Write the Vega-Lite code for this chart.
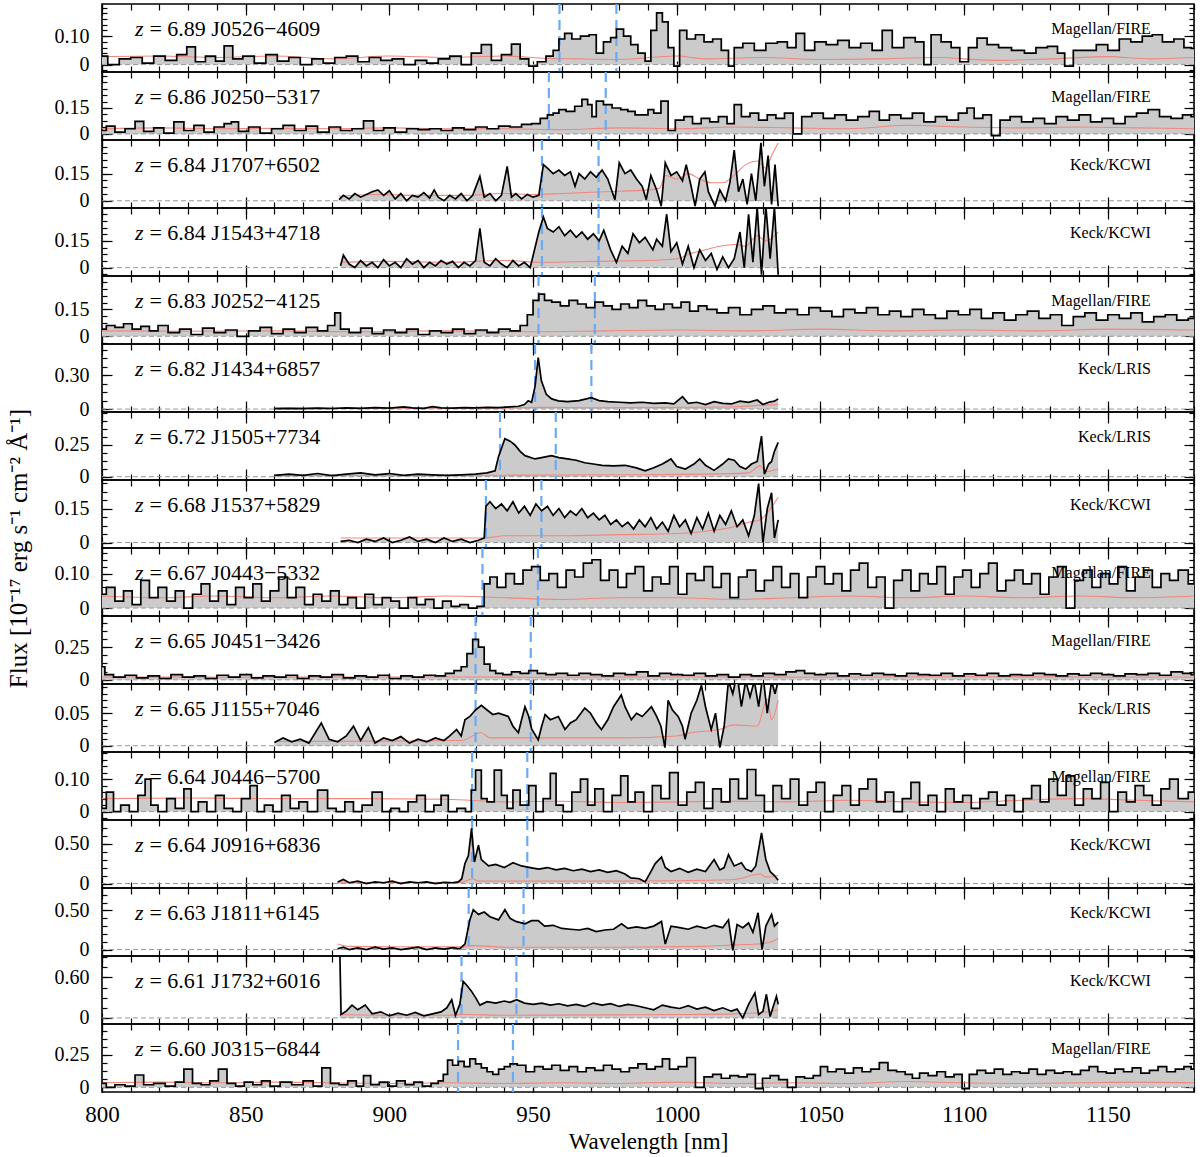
{
"padding":{"left":5,"top":2,"right":2,"bottom":2},
"config":{
 "view":{"continuousWidth":1092,"continuousHeight":68,"stroke":"black","strokeWidth":1.6},
 "concat":{"spacing":0},
 "mark":{"invalid":"filter"},
 "axis":{"domain":false,"grid":false,"tickColor":"black","tickWidth":1.2,"labelFont":"Liberation Serif","labelFontSize":20,"labelColor":"black","labelFlush":false,"titleFont":"Liberation Serif","titleFontWeight":"normal","titleColor":"black","zindex":1},
 "text":{"font":"Liberation Serif","fontSize":22,"baseline":"middle","color":"black"}
},
"datasets":{"d":[
{"p":1,"t":"= 6.89 J0526−4609","i":"Magellan/FIRE"},{"p":2,"t":"= 6.86 J0250−5317","i":"Magellan/FIRE"},{"p":3,"t":"= 6.84 J1707+6502","i":"Keck/KCWI"},{"p":4,"t":"= 6.84 J1543+4718","i":"Keck/KCWI"},{"p":5,"t":"= 6.83 J0252−4125","i":"Magellan/FIRE"},{"p":6,"t":"= 6.82 J1434+6857","i":"Keck/LRIS"},{"p":7,"t":"= 6.72 J1505+7734","i":"Keck/LRIS"},{"p":8,"t":"= 6.68 J1537+5829","i":"Keck/KCWI"},{"p":9,"t":"= 6.67 J0443−5332","i":"Magellan/FIRE"},{"p":10,"t":"= 6.65 J0451−3426","i":"Magellan/FIRE"},{"p":11,"t":"= 6.65 J1155+7046","i":"Keck/LRIS"},{"p":12,"t":"= 6.64 J0446−5700","i":"Magellan/FIRE"},{"p":13,"t":"= 6.64 J0916+6836","i":"Keck/KCWI"},{"p":14,"t":"= 6.63 J1811+6145","i":"Keck/KCWI"},{"p":15,"t":"= 6.61 J1732+6016","i":"Keck/KCWI"},{"p":16,"t":"= 6.60 J0315−6844","i":"Magellan/FIRE"},
{"p":1,"l":959.2},{"p":1,"l":979.0},{"p":2,"l":955.5},{"p":2,"l":975.3},{"p":3,"l":953.1},{"p":3,"l":972.8},{"p":4,"l":953.1},{"p":4,"l":972.8},{"p":5,"l":951.9},{"p":5,"l":971.5},{"p":6,"l":950.7},{"p":6,"l":970.3},{"p":7,"l":938.5},{"p":7,"l":957.9},{"p":8,"l":933.6},{"p":8,"l":952.9},{"p":9,"l":932.4},{"p":9,"l":951.7},{"p":10,"l":930.0},{"p":10,"l":949.2},{"p":11,"l":930.0},{"p":11,"l":949.2},{"p":12,"l":928.8},{"p":12,"l":948.0},{"p":13,"l":928.8},{"p":13,"l":948.0},{"p":14,"l":927.6},{"p":14,"l":946.7},{"p":15,"l":925.1},{"p":15,"l":944.2},{"p":16,"l":923.9},{"p":16,"l":943.0},
{"p":1,"w":800,"f":0.03},{"p":1,"w":804,"f":0.0},{"p":1,"w":808,"f":0.02},{"p":1,"w":812,"f":0.025},{"p":1,"w":816,"f":0.005},{"p":1,"w":820,"f":0.03},{"p":1,"w":824,"f":0.015},{"p":1,"w":828,"f":0.035},{"p":1,"w":831,"f":0.062},{"p":1,"w":834,"f":0.01},{"p":1,"w":838,"f":0.03},{"p":1,"w":841,"f":0.012},{"p":1,"w":844,"f":0.066},{"p":1,"w":847,"f":0.02},{"p":1,"w":851,"f":0.03},{"p":1,"w":855,"f":0.005},{"p":1,"w":859,"f":0.035},{"p":1,"w":863,"f":0.012},{"p":1,"w":867,"f":0.025},{"p":1,"w":871,"f":0.0},{"p":1,"w":875,"f":0.02},{"p":1,"w":879,"f":0.005},{"p":1,"w":883,"f":0.025},{"p":1,"w":887,"f":0.03},{"p":1,"w":891,"f":0.01},{"p":1,"w":895,"f":0.025},{"p":1,"w":899,"f":0.015},{"p":1,"w":903,"f":0.02},{"p":1,"w":907,"f":0.0},{"p":1,"w":911,"f":0.015},{"p":1,"w":915,"f":0.005},{"p":1,"w":919,"f":0.02},{"p":1,"w":923,"f":0.03},{"p":1,"w":927,"f":0.0},{"p":1,"w":930,"f":0.04},{"p":1,"w":934,"f":0.07},{"p":1,"w":937,"f":0.015},{"p":1,"w":941,"f":0.035},{"p":1,"w":944,"f":0.072},{"p":1,"w":947,"f":0.02},{"p":1,"w":950,"f":-0.005},{"p":1,"w":953,"f":0.01},{"p":1,"w":956,"f":0.03},{"p":1,"w":958,"f":0.05},{"p":1,"w":960,"f":0.09},{"p":1,"w":962,"f":0.11},{"p":1,"w":965,"f":0.09},{"p":1,"w":968,"f":0.1},{"p":1,"w":971,"f":0.105},{"p":1,"w":973,"f":0.04},{"p":1,"w":976,"f":0.08},{"p":1,"w":978,"f":0.095},{"p":1,"w":980,"f":0.125},{"p":1,"w":983,"f":0.1},{"p":1,"w":985,"f":0.07},{"p":1,"w":988,"f":0.04},{"p":1,"w":990,"f":0.012},{"p":1,"w":992,"f":0.12},{"p":1,"w":994,"f":0.182},{"p":1,"w":996,"f":0.15},{"p":1,"w":998,"f":0.06},{"p":1,"w":1000,"f":-0.005},{"p":1,"w":1002,"f":0.12},{"p":1,"w":1005,"f":0.09},{"p":1,"w":1008,"f":0.105},{"p":1,"w":1011,"f":0.08},{"p":1,"w":1014,"f":0.09},{"p":1,"w":1017,"f":0.05},{"p":1,"w":1019,"f":-0.005},{"p":1,"w":1021,"f":0.06},{"p":1,"w":1025,"f":0.075},{"p":1,"w":1029,"f":0.05},{"p":1,"w":1033,"f":0.075},{"p":1,"w":1037,"f":0.08},{"p":1,"w":1040,"f":0.06},{"p":1,"w":1043,"f":0.11},{"p":1,"w":1046,"f":0.05},{"p":1,"w":1050,"f":0.08},{"p":1,"w":1054,"f":0.07},{"p":1,"w":1058,"f":0.085},{"p":1,"w":1062,"f":0.06},{"p":1,"w":1066,"f":0.075},{"p":1,"w":1070,"f":0.05},{"p":1,"w":1073,"f":0.12},{"p":1,"w":1077,"f":0.06},{"p":1,"w":1081,"f":0.095},{"p":1,"w":1085,"f":0.08},{"p":1,"w":1087,"f":0.0},{"p":1,"w":1090,"f":0.105},{"p":1,"w":1094,"f":0.08},{"p":1,"w":1097,"f":0.06},{"p":1,"w":1100,"f":0.01},{"p":1,"w":1103,"f":0.06},{"p":1,"w":1106,"f":0.093},{"p":1,"w":1110,"f":0.07},{"p":1,"w":1114,"f":0.06},{"p":1,"w":1119,"f":0.05},{"p":1,"w":1123,"f":0.04},{"p":1,"w":1127,"f":0.06},{"p":1,"w":1131,"f":0.064},{"p":1,"w":1134,"f":0.04},{"p":1,"w":1136,"f":-0.005},{"p":1,"w":1140,"f":0.05},{"p":1,"w":1144,"f":0.05},{"p":1,"w":1148,"f":0.07},{"p":1,"w":1152,"f":0.05},{"p":1,"w":1156,"f":0.09},{"p":1,"w":1160,"f":0.08},{"p":1,"w":1164,"f":0.1},{"p":1,"w":1167,"f":0.105},{"p":1,"w":1171,"f":0.08},{"p":1,"w":1175,"f":0.09},{"p":1,"w":1178,"f":0.06},{"p":1,"w":1180,"f":0.057},
{"p":1,"w":800,"e":0.028},{"p":1,"w":820,"e":0.03},{"p":1,"w":840,"e":0.025},{"p":1,"w":860,"e":0.03},{"p":1,"w":880,"e":0.02},{"p":1,"w":900,"e":0.03},{"p":1,"w":920,"e":0.025},{"p":1,"w":940,"e":0.03},{"p":1,"w":955,"e":0.022},{"p":1,"w":965,"e":0.02},{"p":1,"w":980,"e":0.018},{"p":1,"w":1000,"e":0.03},{"p":1,"w":1010,"e":0.02},{"p":1,"w":1030,"e":0.025},{"p":1,"w":1050,"e":0.018},{"p":1,"w":1070,"e":0.02},{"p":1,"w":1090,"e":0.025},{"p":1,"w":1110,"e":0.015},{"p":1,"w":1130,"e":0.02},{"p":1,"w":1150,"e":0.028},{"p":1,"w":1165,"e":0.02},{"p":1,"w":1180,"e":0.025},
{"p":2,"w":800,"f":0.02},{"p":2,"w":803,"f":0.045},{"p":2,"w":806,"f":0.01},{"p":2,"w":810,"f":0.03},{"p":2,"w":813,"f":0.073},{"p":2,"w":816,"f":0.015},{"p":2,"w":820,"f":0.035},{"p":2,"w":823,"f":0.005},{"p":2,"w":827,"f":0.07},{"p":2,"w":830,"f":0.02},{"p":2,"w":834,"f":0.05},{"p":2,"w":837,"f":0.01},{"p":2,"w":841,"f":0.04},{"p":2,"w":844,"f":0.06},{"p":2,"w":846,"f":0.07},{"p":2,"w":849,"f":0.015},{"p":2,"w":853,"f":0.04},{"p":2,"w":857,"f":0.005},{"p":2,"w":861,"f":0.03},{"p":2,"w":865,"f":0.05},{"p":2,"w":869,"f":0.02},{"p":2,"w":873,"f":0.045},{"p":2,"w":877,"f":0.01},{"p":2,"w":881,"f":0.04},{"p":2,"w":885,"f":0.02},{"p":2,"w":889,"f":0.03},{"p":2,"w":893,"f":0.075},{"p":2,"w":896,"f":0.02},{"p":2,"w":900,"f":0.035},{"p":2,"w":904,"f":0.01},{"p":2,"w":908,"f":0.03},{"p":2,"w":912,"f":0.025},{"p":2,"w":916,"f":0.03},{"p":2,"w":920,"f":0.02},{"p":2,"w":924,"f":0.035},{"p":2,"w":928,"f":0.025},{"p":2,"w":932,"f":0.04},{"p":2,"w":936,"f":0.03},{"p":2,"w":940,"f":0.045},{"p":2,"w":944,"f":0.04},{"p":2,"w":948,"f":0.055},{"p":2,"w":951,"f":0.06},{"p":2,"w":954,"f":0.09},{"p":2,"w":956,"f":0.11},{"p":2,"w":958,"f":0.12},{"p":2,"w":960,"f":0.14},{"p":2,"w":963,"f":0.13},{"p":2,"w":966,"f":0.16},{"p":2,"w":968,"f":0.2},{"p":2,"w":970,"f":0.17},{"p":2,"w":971,"f":0.1},{"p":2,"w":973,"f":0.19},{"p":2,"w":976,"f":0.17},{"p":2,"w":979,"f":0.15},{"p":2,"w":982,"f":0.14},{"p":2,"w":984,"f":0.13},{"p":2,"w":987,"f":0.11},{"p":2,"w":989,"f":0.11},{"p":2,"w":991,"f":0.14},{"p":2,"w":993,"f":0.12},{"p":2,"w":996,"f":0.19},{"p":2,"w":998,"f":0.02},{"p":2,"w":1001,"f":0.08},{"p":2,"w":1004,"f":0.1},{"p":2,"w":1007,"f":0.06},{"p":2,"w":1010,"f":0.09},{"p":2,"w":1013,"f":0.07},{"p":2,"w":1016,"f":0.1},{"p":2,"w":1019,"f":0.06},{"p":2,"w":1021,"f":0.17},{"p":2,"w":1024,"f":0.1},{"p":2,"w":1027,"f":0.12},{"p":2,"w":1030,"f":0.08},{"p":2,"w":1033,"f":0.11},{"p":2,"w":1036,"f":0.09},{"p":2,"w":1039,"f":0.12},{"p":2,"w":1042,"f":0.0},{"p":2,"w":1045,"f":0.1},{"p":2,"w":1049,"f":0.12},{"p":2,"w":1053,"f":0.09},{"p":2,"w":1057,"f":0.11},{"p":2,"w":1061,"f":0.08},{"p":2,"w":1065,"f":0.1},{"p":2,"w":1069,"f":0.13},{"p":2,"w":1072,"f":0.08},{"p":2,"w":1076,"f":0.11},{"p":2,"w":1080,"f":0.09},{"p":2,"w":1084,"f":0.12},{"p":2,"w":1088,"f":0.07},{"p":2,"w":1092,"f":0.1},{"p":2,"w":1096,"f":0.08},{"p":2,"w":1100,"f":0.12},{"p":2,"w":1102,"f":0.15},{"p":2,"w":1105,"f":0.09},{"p":2,"w":1108,"f":0.11},{"p":2,"w":1111,"f":-0.01},{"p":2,"w":1114,"f":0.08},{"p":2,"w":1118,"f":0.1},{"p":2,"w":1122,"f":0.07},{"p":2,"w":1126,"f":0.09},{"p":2,"w":1130,"f":0.06},{"p":2,"w":1134,"f":0.1},{"p":2,"w":1138,"f":0.08},{"p":2,"w":1142,"f":0.11},{"p":2,"w":1146,"f":0.07},{"p":2,"w":1150,"f":0.09},{"p":2,"w":1154,"f":0.06},{"p":2,"w":1158,"f":0.1},{"p":2,"w":1162,"f":0.12},{"p":2,"w":1166,"f":0.14},{"p":2,"w":1170,"f":0.1},{"p":2,"w":1174,"f":0.09},{"p":2,"w":1178,"f":0.11},{"p":2,"w":1180,"f":0.1},
{"p":2,"w":800,"e":0.03},{"p":2,"w":820,"e":0.035},{"p":2,"w":840,"e":0.03},{"p":2,"w":860,"e":0.032},{"p":2,"w":880,"e":0.03},{"p":2,"w":900,"e":0.035},{"p":2,"w":920,"e":0.03},{"p":2,"w":940,"e":0.03},{"p":2,"w":960,"e":0.025},{"p":2,"w":980,"e":0.035},{"p":2,"w":1000,"e":0.03},{"p":2,"w":1020,"e":0.04},{"p":2,"w":1040,"e":0.035},{"p":2,"w":1060,"e":0.03},{"p":2,"w":1080,"e":0.05},{"p":2,"w":1100,"e":0.04},{"p":2,"w":1120,"e":0.035},{"p":2,"w":1140,"e":0.04},{"p":2,"w":1160,"e":0.035},{"p":2,"w":1180,"e":0.03},
{"p":3,"w":882.5,"f":0.006},{"p":3,"w":884,"f":0.03},{"p":3,"w":886,"f":0.01},{"p":3,"w":888,"f":0.04},{"p":3,"w":890,"f":0.02},{"p":3,"w":892,"f":0.035},{"p":3,"w":894,"f":0.05},{"p":3,"w":896,"f":0.06},{"p":3,"w":898,"f":0.03},{"p":3,"w":900,"f":0.055},{"p":3,"w":902,"f":0.01},{"p":3,"w":904,"f":0.04},{"p":3,"w":906,"f":0.0},{"p":3,"w":908,"f":0.03},{"p":3,"w":910,"f":0.02},{"p":3,"w":912,"f":0.045},{"p":3,"w":914,"f":0.015},{"p":3,"w":915.6,"f":0.06},{"p":3,"w":917,"f":0.02},{"p":3,"w":919,"f":0.0},{"p":3,"w":921,"f":0.03},{"p":3,"w":923,"f":0.01},{"p":3,"w":925,"f":0.04},{"p":3,"w":927,"f":0.0},{"p":3,"w":929,"f":0.03},{"p":3,"w":931.5,"f":0.135},{"p":3,"w":933,"f":0.02},{"p":3,"w":935,"f":0.04},{"p":3,"w":937,"f":0.0},{"p":3,"w":939,"f":0.03},{"p":3,"w":941,"f":0.19},{"p":3,"w":942.5,"f":0.02},{"p":3,"w":944,"f":0.04},{"p":3,"w":946,"f":0.01},{"p":3,"w":948,"f":0.035},{"p":3,"w":950,"f":0.02},{"p":3,"w":952,"f":0.03},{"p":3,"w":953.6,"f":0.2},{"p":3,"w":955,"f":0.18},{"p":3,"w":957,"f":0.15},{"p":3,"w":959,"f":0.17},{"p":3,"w":961,"f":0.14},{"p":3,"w":963,"f":0.16},{"p":3,"w":964.6,"f":0.08},{"p":3,"w":966,"f":0.15},{"p":3,"w":968,"f":0.12},{"p":3,"w":970,"f":0.16},{"p":3,"w":972,"f":0.13},{"p":3,"w":974,"f":0.17},{"p":3,"w":976,"f":0.12},{"p":3,"w":978.5,"f":0.006},{"p":3,"w":980,"f":0.21},{"p":3,"w":982,"f":0.15},{"p":3,"w":984,"f":0.17},{"p":3,"w":986,"f":0.12},{"p":3,"w":988,"f":0.08},{"p":3,"w":989.4,"f":0.006},{"p":3,"w":991,"f":0.14},{"p":3,"w":993,"f":0.06},{"p":3,"w":994.6,"f":-0.03},{"p":3,"w":996,"f":0.21},{"p":3,"w":998,"f":0.14},{"p":3,"w":1000,"f":0.16},{"p":3,"w":1002,"f":0.11},{"p":3,"w":1003.3,"f":0.2},{"p":3,"w":1005,"f":0.08},{"p":3,"w":1006.4,"f":-0.03},{"p":3,"w":1008,"f":0.12},{"p":3,"w":1009.8,"f":0.16},{"p":3,"w":1011,"f":0.05},{"p":3,"w":1013.3,"f":-0.03},{"p":3,"w":1015,"f":0.06},{"p":3,"w":1017,"f":0.0},{"p":3,"w":1018.5,"f":0.1},{"p":3,"w":1020,"f":0.28},{"p":3,"w":1021.5,"f":0.05},{"p":3,"w":1023,"f":0.12},{"p":3,"w":1024.5,"f":-0.02},{"p":3,"w":1026,"f":0.15},{"p":3,"w":1027.5,"f":0.0},{"p":3,"w":1029.3,"f":0.32},{"p":3,"w":1030.5,"f":0.08},{"p":3,"w":1031.8,"f":0.25},{"p":3,"w":1033,"f":-0.02},{"p":3,"w":1034.2,"f":0.2},{"p":3,"w":1035.3,"f":-0.03},
{"p":3,"w":882.5,"e":0.025},{"p":3,"w":895,"e":0.035},{"p":3,"w":910,"e":0.03},{"p":3,"w":925,"e":0.03},{"p":3,"w":940,"e":0.04},{"p":3,"w":950,"e":0.035},{"p":3,"w":960,"e":0.04},{"p":3,"w":975,"e":0.05},{"p":3,"w":990,"e":0.06},{"p":3,"w":994,"e":0.07},{"p":3,"w":996,"e":0.14},{"p":3,"w":1000,"e":0.12},{"p":3,"w":1004,"e":0.15},{"p":3,"w":1008,"e":0.12},{"p":3,"w":1012,"e":0.1},{"p":3,"w":1016,"e":0.1},{"p":3,"w":1020,"e":0.14},{"p":3,"w":1024,"e":0.2},{"p":3,"w":1028,"e":0.22},{"p":3,"w":1031,"e":0.18},{"p":3,"w":1033,"e":0.25},{"p":3,"w":1035.3,"e":0.32},
{"p":4,"w":883,"f":0.01},{"p":4,"w":884,"f":0.07},{"p":4,"w":886,"f":0.02},{"p":4,"w":888,"f":0.0},{"p":4,"w":890,"f":0.04},{"p":4,"w":892,"f":0.01},{"p":4,"w":894,"f":0.03},{"p":4,"w":896,"f":0.0},{"p":4,"w":898,"f":0.045},{"p":4,"w":900,"f":0.01},{"p":4,"w":902,"f":0.03},{"p":4,"w":904,"f":0.0},{"p":4,"w":906,"f":0.05},{"p":4,"w":908,"f":0.02},{"p":4,"w":910,"f":0.04},{"p":4,"w":912,"f":0.0},{"p":4,"w":914,"f":0.03},{"p":4,"w":916,"f":0.01},{"p":4,"w":918,"f":0.04},{"p":4,"w":920,"f":0.02},{"p":4,"w":922,"f":0.035},{"p":4,"w":924,"f":0.0},{"p":4,"w":926,"f":0.03},{"p":4,"w":928,"f":0.01},{"p":4,"w":930,"f":0.04},{"p":4,"w":931.5,"f":0.22},{"p":4,"w":933,"f":0.03},{"p":4,"w":935,"f":0.01},{"p":4,"w":937,"f":0.05},{"p":4,"w":939,"f":0.02},{"p":4,"w":941,"f":0.0},{"p":4,"w":943,"f":0.04},{"p":4,"w":945,"f":0.01},{"p":4,"w":947,"f":0.03},{"p":4,"w":949,"f":0.0},{"p":4,"w":950.5,"f":0.1},{"p":4,"w":952,"f":0.2},{"p":4,"w":953.6,"f":0.285},{"p":4,"w":955,"f":0.22},{"p":4,"w":957,"f":0.2},{"p":4,"w":959,"f":0.23},{"p":4,"w":961,"f":0.18},{"p":4,"w":963,"f":0.21},{"p":4,"w":965,"f":0.17},{"p":4,"w":967,"f":0.2},{"p":4,"w":969,"f":0.16},{"p":4,"w":971,"f":0.19},{"p":4,"w":973,"f":0.15},{"p":4,"w":974.6,"f":0.21},{"p":4,"w":977,"f":0.1},{"p":4,"w":979,"f":0.03},{"p":4,"w":981,"f":0.12},{"p":4,"w":983,"f":0.08},{"p":4,"w":984.8,"f":0.19},{"p":4,"w":987,"f":0.14},{"p":4,"w":989,"f":0.17},{"p":4,"w":991.7,"f":0.1},{"p":4,"w":993,"f":0.16},{"p":4,"w":995,"f":0.12},{"p":4,"w":996.5,"f":0.3},{"p":4,"w":998,"f":0.09},{"p":4,"w":1000,"f":0.14},{"p":4,"w":1002,"f":0.02},{"p":4,"w":1004,"f":0.12},{"p":4,"w":1006,"f":0.0},{"p":4,"w":1008,"f":0.1},{"p":4,"w":1010,"f":0.04},{"p":4,"w":1012,"f":0.08},{"p":4,"w":1014,"f":-0.01},{"p":4,"w":1016,"f":0.06},{"p":4,"w":1018,"f":0.0},{"p":4,"w":1020,"f":0.05},{"p":4,"w":1022,"f":0.2},{"p":4,"w":1023.5,"f":0.0},{"p":4,"w":1025,"f":0.3},{"p":4,"w":1026.5,"f":0.03},{"p":4,"w":1028,"f":0.34},{"p":4,"w":1029.5,"f":-0.04},{"p":4,"w":1031,"f":0.35},{"p":4,"w":1032.5,"f":0.05},{"p":4,"w":1034,"f":0.34},{"p":4,"w":1035.3,"f":-0.04},
{"p":4,"w":883,"e":0.03},{"p":4,"w":900,"e":0.035},{"p":4,"w":920,"e":0.03},{"p":4,"w":940,"e":0.04},{"p":4,"w":953,"e":0.03},{"p":4,"w":970,"e":0.035},{"p":4,"w":990,"e":0.04},{"p":4,"w":1000,"e":0.05},{"p":4,"w":1005,"e":0.08},{"p":4,"w":1010,"e":0.1},{"p":4,"w":1015,"e":0.12},{"p":4,"w":1020,"e":0.13},{"p":4,"w":1024,"e":0.12},{"p":4,"w":1028,"e":0.18},{"p":4,"w":1031,"e":0.15},{"p":4,"w":1035.3,"e":0.2},
{"p":5,"w":800,"f":0.04},{"p":5,"w":803,"f":0.06},{"p":5,"w":806,"f":0.05},{"p":5,"w":809,"f":0.07},{"p":5,"w":812,"f":0.04},{"p":5,"w":815,"f":0.055},{"p":5,"w":818,"f":0.03},{"p":5,"w":821,"f":0.06},{"p":5,"w":825,"f":0.02},{"p":5,"w":829,"f":0.04},{"p":5,"w":833,"f":0.01},{"p":5,"w":837,"f":0.045},{"p":5,"w":841,"f":0.02},{"p":5,"w":845,"f":0.035},{"p":5,"w":849,"f":0.0},{"p":5,"w":853,"f":0.03},{"p":5,"w":857,"f":0.05},{"p":5,"w":861,"f":0.015},{"p":5,"w":865,"f":0.04},{"p":5,"w":869,"f":0.02},{"p":5,"w":873,"f":0.05},{"p":5,"w":877,"f":0.03},{"p":5,"w":880,"f":0.06},{"p":5,"w":882,"f":0.13},{"p":5,"w":884,"f":0.04},{"p":5,"w":888,"f":0.02},{"p":5,"w":892,"f":0.045},{"p":5,"w":896,"f":0.015},{"p":5,"w":900,"f":0.035},{"p":5,"w":904,"f":0.02},{"p":5,"w":908,"f":0.04},{"p":5,"w":912,"f":0.01},{"p":5,"w":916,"f":0.03},{"p":5,"w":920,"f":0.02},{"p":5,"w":924,"f":0.04},{"p":5,"w":928,"f":0.015},{"p":5,"w":932,"f":0.035},{"p":5,"w":936,"f":0.02},{"p":5,"w":940,"f":0.04},{"p":5,"w":944,"f":0.03},{"p":5,"w":947,"f":0.06},{"p":5,"w":949,"f":0.12},{"p":5,"w":951,"f":0.2},{"p":5,"w":953,"f":0.235},{"p":5,"w":955,"f":0.2},{"p":5,"w":958,"f":0.19},{"p":5,"w":961,"f":0.17},{"p":5,"w":964,"f":0.2},{"p":5,"w":967,"f":0.18},{"p":5,"w":970,"f":0.16},{"p":5,"w":973,"f":0.19},{"p":5,"w":976,"f":0.17},{"p":5,"w":979,"f":0.15},{"p":5,"w":982,"f":0.18},{"p":5,"w":985,"f":0.16},{"p":5,"w":988,"f":0.2},{"p":5,"w":991,"f":0.17},{"p":5,"w":994,"f":0.15},{"p":5,"w":997,"f":0.18},{"p":5,"w":1000,"f":0.16},{"p":5,"w":1003,"f":0.19},{"p":5,"w":1006,"f":0.14},{"p":5,"w":1009,"f":0.17},{"p":5,"w":1012,"f":0.15},{"p":5,"w":1016,"f":0.13},{"p":5,"w":1020,"f":0.16},{"p":5,"w":1024,"f":0.12},{"p":5,"w":1028,"f":0.15},{"p":5,"w":1032,"f":0.17},{"p":5,"w":1036,"f":0.13},{"p":5,"w":1040,"f":0.15},{"p":5,"w":1044,"f":0.12},{"p":5,"w":1048,"f":0.16},{"p":5,"w":1052,"f":0.14},{"p":5,"w":1056,"f":0.11},{"p":5,"w":1060,"f":0.15},{"p":5,"w":1064,"f":0.13},{"p":5,"w":1068,"f":0.16},{"p":5,"w":1072,"f":0.12},{"p":5,"w":1076,"f":0.14},{"p":5,"w":1080,"f":0.11},{"p":5,"w":1084,"f":0.15},{"p":5,"w":1088,"f":0.12},{"p":5,"w":1092,"f":0.1},{"p":5,"w":1096,"f":0.14},{"p":5,"w":1100,"f":0.12},{"p":5,"w":1104,"f":0.15},{"p":5,"w":1108,"f":0.1},{"p":5,"w":1112,"f":0.13},{"p":5,"w":1116,"f":0.09},{"p":5,"w":1120,"f":0.12},{"p":5,"w":1124,"f":0.14},{"p":5,"w":1128,"f":0.1},{"p":5,"w":1132,"f":0.12},{"p":5,"w":1136,"f":0.06},{"p":5,"w":1140,"f":0.11},{"p":5,"w":1144,"f":0.13},{"p":5,"w":1148,"f":0.09},{"p":5,"w":1152,"f":0.12},{"p":5,"w":1156,"f":0.1},{"p":5,"w":1160,"f":0.13},{"p":5,"w":1164,"f":0.08},{"p":5,"w":1168,"f":0.11},{"p":5,"w":1172,"f":0.12},{"p":5,"w":1176,"f":0.09},{"p":5,"w":1180,"f":0.1},
{"p":5,"w":800,"e":0.03},{"p":5,"w":830,"e":0.028},{"p":5,"w":860,"e":0.03},{"p":5,"w":890,"e":0.025},{"p":5,"w":920,"e":0.03},{"p":5,"w":950,"e":0.025},{"p":5,"w":975,"e":0.03},{"p":5,"w":1000,"e":0.035},{"p":5,"w":1025,"e":0.03},{"p":5,"w":1050,"e":0.04},{"p":5,"w":1075,"e":0.03},{"p":5,"w":1100,"e":0.035},{"p":5,"w":1125,"e":0.03},{"p":5,"w":1150,"e":0.04},{"p":5,"w":1180,"e":0.035},
{"p":6,"w":860,"f":0.003},{"p":6,"w":865,"f":0.006},{"p":6,"w":870,"f":0.004},{"p":6,"w":875,"f":0.008},{"p":6,"w":880,"f":0.005},{"p":6,"w":885,"f":0.01},{"p":6,"w":890,"f":0.006},{"p":6,"w":895,"f":0.012},{"p":6,"w":900,"f":0.008},{"p":6,"w":905,"f":0.02},{"p":6,"w":908,"f":0.01},{"p":6,"w":912,"f":0.006},{"p":6,"w":915,"f":0.022},{"p":6,"w":918,"f":0.01},{"p":6,"w":922,"f":0.008},{"p":6,"w":926,"f":0.012},{"p":6,"w":930,"f":0.01},{"p":6,"w":934,"f":0.015},{"p":6,"w":938,"f":0.012},{"p":6,"w":942,"f":0.02},{"p":6,"w":945,"f":0.025},{"p":6,"w":947,"f":0.04},{"p":6,"w":948.3,"f":0.073},{"p":6,"w":949.5,"f":0.06},{"p":6,"w":950.7,"f":0.2},{"p":6,"w":951.8,"f":0.455},{"p":6,"w":952.9,"f":0.25},{"p":6,"w":954.6,"f":0.13},{"p":6,"w":956.5,"f":0.09},{"p":6,"w":958.8,"f":0.073},{"p":6,"w":962,"f":0.065},{"p":6,"w":966,"f":0.075},{"p":6,"w":970.3,"f":0.1},{"p":6,"w":973,"f":0.075},{"p":6,"w":976,"f":0.065},{"p":6,"w":980,"f":0.06},{"p":6,"w":984,"f":0.055},{"p":6,"w":988,"f":0.06},{"p":6,"w":992,"f":0.05},{"p":6,"w":996,"f":0.055},{"p":6,"w":999,"f":0.045},{"p":6,"w":1002,"f":0.11},{"p":6,"w":1004,"f":0.05},{"p":6,"w":1007,"f":0.06},{"p":6,"w":1010,"f":0.04},{"p":6,"w":1013,"f":0.065},{"p":6,"w":1016,"f":0.05},{"p":6,"w":1019,"f":0.045},{"p":6,"w":1022,"f":0.07},{"p":6,"w":1025,"f":0.06},{"p":6,"w":1028,"f":0.08},{"p":6,"w":1030,"f":0.04},{"p":6,"w":1032,"f":0.06},{"p":6,"w":1034,"f":0.07},{"p":6,"w":1035.3,"f":0.09},
{"p":6,"w":860,"e":0.008},{"p":6,"w":900,"e":0.008},{"p":6,"w":940,"e":0.01},{"p":6,"w":952,"e":0.015},{"p":6,"w":970,"e":0.012},{"p":6,"w":1000,"e":0.015},{"p":6,"w":1020,"e":0.02},{"p":6,"w":1030,"e":0.035},{"p":6,"w":1035.3,"e":0.04},
{"p":7,"w":860,"f":0.01},{"p":7,"w":865,"f":0.02},{"p":7,"w":870,"f":0.01},{"p":7,"w":875,"f":0.025},{"p":7,"w":880,"f":0.008},{"p":7,"w":885,"f":0.02},{"p":7,"w":890,"f":0.03},{"p":7,"w":895,"f":0.015},{"p":7,"w":900,"f":0.025},{"p":7,"w":905,"f":0.01},{"p":7,"w":910,"f":0.02},{"p":7,"w":915,"f":0.015},{"p":7,"w":920,"f":0.01},{"p":7,"w":925,"f":0.015},{"p":7,"w":930,"f":0.02},{"p":7,"w":934,"f":0.03},{"p":7,"w":936.8,"f":0.047},{"p":7,"w":938,"f":0.16},{"p":7,"w":940.2,"f":0.3},{"p":7,"w":942,"f":0.28},{"p":7,"w":943.7,"f":0.25},{"p":7,"w":945.5,"f":0.2},{"p":7,"w":947.2,"f":0.166},{"p":7,"w":950.7,"f":0.14},{"p":7,"w":953,"f":0.15},{"p":7,"w":956.4,"f":0.166},{"p":7,"w":959,"f":0.15},{"p":7,"w":962,"f":0.14},{"p":7,"w":965,"f":0.13},{"p":7,"w":968,"f":0.11},{"p":7,"w":971,"f":0.1},{"p":7,"w":974,"f":0.09},{"p":7,"w":978,"f":0.085},{"p":7,"w":982,"f":0.09},{"p":7,"w":986,"f":0.07},{"p":7,"w":989,"f":0.047},{"p":7,"w":992,"f":0.07},{"p":7,"w":995,"f":0.1},{"p":7,"w":998,"f":0.14},{"p":7,"w":1000,"f":0.08},{"p":7,"w":1003,"f":0.06},{"p":7,"w":1006,"f":0.1},{"p":7,"w":1008,"f":0.14},{"p":7,"w":1010,"f":0.09},{"p":7,"w":1013,"f":0.05},{"p":7,"w":1016,"f":0.1},{"p":7,"w":1018,"f":0.14},{"p":7,"w":1020,"f":0.13},{"p":7,"w":1022,"f":0.08},{"p":7,"w":1024,"f":0.06},{"p":7,"w":1026,"f":0.1},{"p":7,"w":1028,"f":0.12},{"p":7,"w":1029.5,"f":0.32},{"p":7,"w":1030.5,"f":0.02},{"p":7,"w":1032,"f":0.1},{"p":7,"w":1033,"f":0.12},{"p":7,"w":1034,"f":0.2},{"p":7,"w":1035.3,"f":0.27},
{"p":7,"w":860,"e":0.01},{"p":7,"w":900,"e":0.01},{"p":7,"w":940,"e":0.012},{"p":7,"w":980,"e":0.015},{"p":7,"w":1010,"e":0.02},{"p":7,"w":1025,"e":0.03},{"p":7,"w":1029,"e":0.085},{"p":7,"w":1031,"e":0.04},{"p":7,"w":1035.3,"e":0.06},
{"p":8,"w":883,"f":0.005},{"p":8,"w":886,"f":0.01},{"p":8,"w":889,"f":0.0},{"p":8,"w":892,"f":0.015},{"p":8,"w":895,"f":0.005},{"p":8,"w":898,"f":0.02},{"p":8,"w":901,"f":0.0},{"p":8,"w":904,"f":0.01},{"p":8,"w":907,"f":0.025},{"p":8,"w":910,"f":0.005},{"p":8,"w":913,"f":0.015},{"p":8,"w":916,"f":0.0},{"p":8,"w":919,"f":0.02},{"p":8,"w":922,"f":0.005},{"p":8,"w":925,"f":0.015},{"p":8,"w":928,"f":0.0},{"p":8,"w":931,"f":0.01},{"p":8,"w":933,"f":0.02},{"p":8,"w":933.6,"f":0.16},{"p":8,"w":935,"f":0.18},{"p":8,"w":937,"f":0.15},{"p":8,"w":939,"f":0.17},{"p":8,"w":941,"f":0.14},{"p":8,"w":943,"f":0.18},{"p":8,"w":945,"f":0.13},{"p":8,"w":947,"f":0.16},{"p":8,"w":949,"f":0.12},{"p":8,"w":951,"f":0.17},{"p":8,"w":953,"f":0.14},{"p":8,"w":955,"f":0.16},{"p":8,"w":957,"f":0.12},{"p":8,"w":959,"f":0.15},{"p":8,"w":961,"f":0.11},{"p":8,"w":963,"f":0.14},{"p":8,"w":965,"f":0.12},{"p":8,"w":967,"f":0.15},{"p":8,"w":969,"f":0.11},{"p":8,"w":971,"f":0.13},{"p":8,"w":973,"f":0.1},{"p":8,"w":975,"f":0.12},{"p":8,"w":977,"f":0.08},{"p":8,"w":979,"f":0.1},{"p":8,"w":981,"f":0.07},{"p":8,"w":983,"f":0.09},{"p":8,"w":985,"f":0.06},{"p":8,"w":987,"f":0.1},{"p":8,"w":989,"f":0.07},{"p":8,"w":991,"f":0.11},{"p":8,"w":993,"f":0.06},{"p":8,"w":995,"f":0.09},{"p":8,"w":997,"f":0.05},{"p":8,"w":999,"f":0.12},{"p":8,"w":1001,"f":0.07},{"p":8,"w":1003,"f":0.1},{"p":8,"w":1005,"f":0.04},{"p":8,"w":1007,"f":0.11},{"p":8,"w":1009,"f":0.06},{"p":8,"w":1011,"f":0.13},{"p":8,"w":1013,"f":0.05},{"p":8,"w":1015,"f":0.12},{"p":8,"w":1017,"f":0.08},{"p":8,"w":1019,"f":0.14},{"p":8,"w":1021,"f":0.07},{"p":8,"w":1023,"f":0.1},{"p":8,"w":1025,"f":0.03},{"p":8,"w":1027,"f":0.12},{"p":8,"w":1028.5,"f":0.26},{"p":8,"w":1030,"f":0.0},{"p":8,"w":1031.5,"f":0.15},{"p":8,"w":1033,"f":0.22},{"p":8,"w":1034,"f":0.02},{"p":8,"w":1035.3,"f":0.1},
{"p":8,"w":883,"e":0.02},{"p":8,"w":900,"e":0.02},{"p":8,"w":920,"e":0.02},{"p":8,"w":933,"e":0.02},{"p":8,"w":940,"e":0.03},{"p":8,"w":960,"e":0.03},{"p":8,"w":980,"e":0.035},{"p":8,"w":1000,"e":0.04},{"p":8,"w":1010,"e":0.05},{"p":8,"w":1020,"e":0.07},{"p":8,"w":1025,"e":0.09},{"p":8,"w":1029,"e":0.1},{"p":8,"w":1032,"e":0.14},{"p":8,"w":1035.3,"e":0.2},
{"p":9,"w":800,"f":0.04},{"p":9,"w":803,"f":0.06},{"p":9,"w":806,"f":0.02},{"p":9,"w":809,"f":0.05},{"p":9,"w":812,"f":0.01},{"p":9,"w":815,"f":0.08},{"p":9,"w":818,"f":0.03},{"p":9,"w":821,"f":0.06},{"p":9,"w":824,"f":0.02},{"p":9,"w":827,"f":0.05},{"p":9,"w":830,"f":0.0},{"p":9,"w":833,"f":0.04},{"p":9,"w":836,"f":0.07},{"p":9,"w":839,"f":0.02},{"p":9,"w":842,"f":0.05},{"p":9,"w":845,"f":0.01},{"p":9,"w":848,"f":0.06},{"p":9,"w":851,"f":0.03},{"p":9,"w":854,"f":0.07},{"p":9,"w":857,"f":0.02},{"p":9,"w":860,"f":0.05},{"p":9,"w":863,"f":0.09},{"p":9,"w":866,"f":0.03},{"p":9,"w":869,"f":0.06},{"p":9,"w":872,"f":0.01},{"p":9,"w":875,"f":0.04},{"p":9,"w":878,"f":0.02},{"p":9,"w":881,"f":0.05},{"p":9,"w":884,"f":0.01},{"p":9,"w":887,"f":0.03},{"p":9,"w":890,"f":0.0},{"p":9,"w":893,"f":0.04},{"p":9,"w":896,"f":0.01},{"p":9,"w":899,"f":0.03},{"p":9,"w":902,"f":0.02},{"p":9,"w":905,"f":0.0},{"p":9,"w":908,"f":0.03},{"p":9,"w":911,"f":0.01},{"p":9,"w":914,"f":0.025},{"p":9,"w":917,"f":0.0},{"p":9,"w":920,"f":0.02},{"p":9,"w":923,"f":0.005},{"p":9,"w":926,"f":0.01},{"p":9,"w":929,"f":0.0},{"p":9,"w":932,"f":0.005},{"p":9,"w":934,"f":0.07},{"p":9,"w":936,"f":0.09},{"p":9,"w":939,"f":0.06},{"p":9,"w":942,"f":0.1},{"p":9,"w":945,"f":0.07},{"p":9,"w":948,"f":0.11},{"p":9,"w":951,"f":0.12},{"p":9,"w":954,"f":0.08},{"p":9,"w":957,"f":0.1},{"p":9,"w":960,"f":0.06},{"p":9,"w":963,"f":0.11},{"p":9,"w":966,"f":0.09},{"p":9,"w":969,"f":0.13},{"p":9,"w":972,"f":0.14},{"p":9,"w":975,"f":0.08},{"p":9,"w":978,"f":0.11},{"p":9,"w":981,"f":0.06},{"p":9,"w":984,"f":0.1},{"p":9,"w":987,"f":0.12},{"p":9,"w":990,"f":0.05},{"p":9,"w":993,"f":0.09},{"p":9,"w":996,"f":0.07},{"p":9,"w":999,"f":0.12},{"p":9,"w":1002,"f":0.04},{"p":9,"w":1005,"f":0.1},{"p":9,"w":1008,"f":0.08},{"p":9,"w":1011,"f":0.12},{"p":9,"w":1014,"f":0.06},{"p":9,"w":1017,"f":0.1},{"p":9,"w":1020,"f":0.03},{"p":9,"w":1023,"f":0.09},{"p":9,"w":1026,"f":0.11},{"p":9,"w":1029,"f":0.05},{"p":9,"w":1032,"f":0.08},{"p":9,"w":1035,"f":0.12},{"p":9,"w":1038,"f":0.06},{"p":9,"w":1041,"f":0.1},{"p":9,"w":1044,"f":0.03},{"p":9,"w":1047,"f":0.09},{"p":9,"w":1050,"f":0.12},{"p":9,"w":1053,"f":0.07},{"p":9,"w":1056,"f":0.1},{"p":9,"w":1059,"f":0.05},{"p":9,"w":1062,"f":0.11},{"p":9,"w":1065,"f":0.13},{"p":9,"w":1068,"f":0.06},{"p":9,"w":1071,"f":0.09},{"p":9,"w":1074,"f":0.0},{"p":9,"w":1077,"f":0.08},{"p":9,"w":1080,"f":0.11},{"p":9,"w":1083,"f":0.05},{"p":9,"w":1086,"f":0.1},{"p":9,"w":1089,"f":0.07},{"p":9,"w":1092,"f":0.12},{"p":9,"w":1095,"f":0.04},{"p":9,"w":1098,"f":0.09},{"p":9,"w":1101,"f":0.11},{"p":9,"w":1104,"f":0.06},{"p":9,"w":1107,"f":0.1},{"p":9,"w":1110,"f":0.13},{"p":9,"w":1113,"f":0.05},{"p":9,"w":1116,"f":0.08},{"p":9,"w":1119,"f":0.11},{"p":9,"w":1122,"f":0.07},{"p":9,"w":1125,"f":0.1},{"p":9,"w":1128,"f":0.04},{"p":9,"w":1131,"f":0.09},{"p":9,"w":1134,"f":0.12},{"p":9,"w":1137,"f":0.0},{"p":9,"w":1140,"f":0.08},{"p":9,"w":1143,"f":0.11},{"p":9,"w":1146,"f":0.06},{"p":9,"w":1149,"f":0.1},{"p":9,"w":1152,"f":0.07},{"p":9,"w":1155,"f":0.12},{"p":9,"w":1158,"f":0.05},{"p":9,"w":1161,"f":0.09},{"p":9,"w":1164,"f":0.11},{"p":9,"w":1167,"f":0.06},{"p":9,"w":1170,"f":0.1},{"p":9,"w":1173,"f":0.08},{"p":9,"w":1176,"f":0.11},{"p":9,"w":1180,"f":0.07},
{"p":9,"w":800,"e":0.035},{"p":9,"w":820,"e":0.03},{"p":9,"w":840,"e":0.035},{"p":9,"w":860,"e":0.03},{"p":9,"w":880,"e":0.035},{"p":9,"w":900,"e":0.03},{"p":9,"w":920,"e":0.035},{"p":9,"w":940,"e":0.03},{"p":9,"w":960,"e":0.025},{"p":9,"w":980,"e":0.03},{"p":9,"w":1000,"e":0.03},{"p":9,"w":1020,"e":0.025},{"p":9,"w":1040,"e":0.03},{"p":9,"w":1060,"e":0.035},{"p":9,"w":1080,"e":0.03},{"p":9,"w":1100,"e":0.035},{"p":9,"w":1120,"e":0.03},{"p":9,"w":1140,"e":0.035},{"p":9,"w":1160,"e":0.03},{"p":9,"w":1180,"e":0.035},
{"p":10,"w":800,"f":0.1},{"p":10,"w":802,"f":0.04},{"p":10,"w":806,"f":0.02},{"p":10,"w":810,"f":0.035},{"p":10,"w":814,"f":0.015},{"p":10,"w":818,"f":0.03},{"p":10,"w":822,"f":0.01},{"p":10,"w":826,"f":0.04},{"p":10,"w":830,"f":0.02},{"p":10,"w":834,"f":0.03},{"p":10,"w":838,"f":0.01},{"p":10,"w":842,"f":0.035},{"p":10,"w":846,"f":0.02},{"p":10,"w":850,"f":0.04},{"p":10,"w":854,"f":0.015},{"p":10,"w":858,"f":0.03},{"p":10,"w":862,"f":0.02},{"p":10,"w":866,"f":0.035},{"p":10,"w":870,"f":0.01},{"p":10,"w":874,"f":0.03},{"p":10,"w":878,"f":0.02},{"p":10,"w":882,"f":0.04},{"p":10,"w":886,"f":0.015},{"p":10,"w":890,"f":0.03},{"p":10,"w":894,"f":0.02},{"p":10,"w":898,"f":0.035},{"p":10,"w":902,"f":0.01},{"p":10,"w":906,"f":0.03},{"p":10,"w":910,"f":0.02},{"p":10,"w":914,"f":0.035},{"p":10,"w":918,"f":0.03},{"p":10,"w":921,"f":0.05},{"p":10,"w":924,"f":0.07},{"p":10,"w":926,"f":0.1},{"p":10,"w":928,"f":0.2},{"p":10,"w":930,"f":0.31},{"p":10,"w":932,"f":0.25},{"p":10,"w":934,"f":0.12},{"p":10,"w":936,"f":0.07},{"p":10,"w":938,"f":0.05},{"p":10,"w":941,"f":0.04},{"p":10,"w":944,"f":0.06},{"p":10,"w":947,"f":0.05},{"p":10,"w":950,"f":0.07},{"p":10,"w":953,"f":0.05},{"p":10,"w":956,"f":0.04},{"p":10,"w":960,"f":0.05},{"p":10,"w":964,"f":0.035},{"p":10,"w":968,"f":0.05},{"p":10,"w":972,"f":0.04},{"p":10,"w":976,"f":0.03},{"p":10,"w":980,"f":0.05},{"p":10,"w":984,"f":0.04},{"p":10,"w":988,"f":0.06},{"p":10,"w":992,"f":0.03},{"p":10,"w":996,"f":0.05},{"p":10,"w":1000,"f":0.04},{"p":10,"w":1004,"f":0.035},{"p":10,"w":1008,"f":0.05},{"p":10,"w":1012,"f":0.03},{"p":10,"w":1016,"f":0.04},{"p":10,"w":1020,"f":0.02},{"p":10,"w":1024,"f":0.04},{"p":10,"w":1028,"f":0.03},{"p":10,"w":1032,"f":0.05},{"p":10,"w":1036,"f":0.04},{"p":10,"w":1040,"f":0.06},{"p":10,"w":1043,"f":0.07},{"p":10,"w":1046,"f":0.05},{"p":10,"w":1050,"f":0.04},{"p":10,"w":1054,"f":0.05},{"p":10,"w":1058,"f":0.03},{"p":10,"w":1062,"f":0.045},{"p":10,"w":1066,"f":0.035},{"p":10,"w":1070,"f":0.05},{"p":10,"w":1074,"f":0.04},{"p":10,"w":1078,"f":0.03},{"p":10,"w":1082,"f":0.05},{"p":10,"w":1086,"f":0.04},{"p":10,"w":1090,"f":0.035},{"p":10,"w":1094,"f":0.05},{"p":10,"w":1098,"f":0.03},{"p":10,"w":1102,"f":0.045},{"p":10,"w":1106,"f":0.035},{"p":10,"w":1110,"f":0.05},{"p":10,"w":1114,"f":0.03},{"p":10,"w":1118,"f":0.04},{"p":10,"w":1122,"f":0.035},{"p":10,"w":1126,"f":0.05},{"p":10,"w":1130,"f":0.04},{"p":10,"w":1134,"f":0.03},{"p":10,"w":1138,"f":0.045},{"p":10,"w":1142,"f":0.035},{"p":10,"w":1146,"f":0.05},{"p":10,"w":1150,"f":0.04},{"p":10,"w":1154,"f":0.03},{"p":10,"w":1158,"f":0.045},{"p":10,"w":1162,"f":0.04},{"p":10,"w":1166,"f":0.05},{"p":10,"w":1170,"f":0.035},{"p":10,"w":1174,"f":0.06},{"p":10,"w":1178,"f":0.05},{"p":10,"w":1180,"f":0.04},
{"p":10,"w":800,"e":0.022},{"p":10,"w":850,"e":0.02},{"p":10,"w":900,"e":0.022},{"p":10,"w":950,"e":0.02},{"p":10,"w":1000,"e":0.022},{"p":10,"w":1050,"e":0.02},{"p":10,"w":1100,"e":0.024},{"p":10,"w":1150,"e":0.02},{"p":10,"w":1180,"e":0.022},
{"p":11,"w":860,"f":0.005},{"p":11,"w":863,"f":0.012},{"p":11,"w":866,"f":0.006},{"p":11,"w":869,"f":0.01},{"p":11,"w":872,"f":0.004},{"p":11,"w":876.3,"f":0.035},{"p":11,"w":879,"f":0.01},{"p":11,"w":882,"f":0.006},{"p":11,"w":885,"f":0.015},{"p":11,"w":887.5,"f":0.03},{"p":11,"w":890,"f":0.008},{"p":11,"w":892.7,"f":0.028},{"p":11,"w":895,"f":0.004},{"p":11,"w":898,"f":0.012},{"p":11,"w":901,"f":0.008},{"p":11,"w":904,"f":0.014},{"p":11,"w":907,"f":0.004},{"p":11,"w":910,"f":0.01},{"p":11,"w":913,"f":0.006},{"p":11,"w":916,"f":0.012},{"p":11,"w":919,"f":0.008},{"p":11,"w":921,"f":0.015},{"p":11,"w":923.4,"f":0.025},{"p":11,"w":925,"f":0.015},{"p":11,"w":926.3,"f":0.04},{"p":11,"w":928,"f":0.045},{"p":11,"w":930,"f":0.055},{"p":11,"w":932,"f":0.062},{"p":11,"w":934,"f":0.055},{"p":11,"w":936,"f":0.048},{"p":11,"w":938,"f":0.05},{"p":11,"w":941.4,"f":0.045},{"p":11,"w":943,"f":0.03},{"p":11,"w":944.9,"f":0.02},{"p":11,"w":946,"f":0.04},{"p":11,"w":947.2,"f":0.06},{"p":11,"w":948.5,"f":0.045},{"p":11,"w":949.5,"f":0.026},{"p":11,"w":951.8,"f":0.009},{"p":11,"w":953,"f":0.03},{"p":11,"w":954.2,"f":0.048},{"p":11,"w":956,"f":0.04},{"p":11,"w":958.8,"f":0.045},{"p":11,"w":961.1,"f":0.025},{"p":11,"w":963,"f":0.035},{"p":11,"w":965,"f":0.04},{"p":11,"w":968,"f":0.058},{"p":11,"w":970,"f":0.05},{"p":11,"w":972,"f":0.035},{"p":11,"w":973.8,"f":0.025},{"p":11,"w":976,"f":0.04},{"p":11,"w":978,"f":0.06},{"p":11,"w":980.7,"f":0.078},{"p":11,"w":982,"f":0.06},{"p":11,"w":984.2,"f":0.04},{"p":11,"w":986,"f":0.05},{"p":11,"w":988,"f":0.045},{"p":11,"w":991.2,"f":0.06},{"p":11,"w":993,"f":0.045},{"p":11,"w":994.5,"f":0.03},{"p":11,"w":995.9,"f":-0.003},{"p":11,"w":997,"f":0.07},{"p":11,"w":998.5,"f":0.055},{"p":11,"w":1000.5,"f":0.045},{"p":11,"w":1002,"f":0.03},{"p":11,"w":1002.9,"f":0.01},{"p":11,"w":1005,"f":0.05},{"p":11,"w":1007,"f":0.07},{"p":11,"w":1008.6,"f":0.093},{"p":11,"w":1010,"f":0.06},{"p":11,"w":1012,"f":0.025},{"p":11,"w":1013.5,"f":0.05},{"p":11,"w":1015,"f":-0.003},{"p":11,"w":1016.5,"f":0.03},{"p":11,"w":1018,"f":0.1},{"p":11,"w":1019.5,"f":0.08},{"p":11,"w":1021,"f":0.11},{"p":11,"w":1022.5,"f":0.06},{"p":11,"w":1024,"f":0.1},{"p":11,"w":1025.5,"f":0.075},{"p":11,"w":1027,"f":0.1},{"p":11,"w":1028.5,"f":0.06},{"p":11,"w":1030,"f":0.11},{"p":11,"w":1031.5,"f":0.05},{"p":11,"w":1033,"f":0.1},{"p":11,"w":1034.2,"f":0.08},{"p":11,"w":1035.3,"f":0.1},
{"p":11,"w":860,"e":0.0065},{"p":11,"w":900,"e":0.007},{"p":11,"w":925,"e":0.008},{"p":11,"w":932,"e":0.02},{"p":11,"w":935,"e":0.012},{"p":11,"w":960,"e":0.012},{"p":11,"w":980,"e":0.012},{"p":11,"w":1000,"e":0.015},{"p":11,"w":1005,"e":0.02},{"p":11,"w":1015,"e":0.025},{"p":11,"w":1020,"e":0.032},{"p":11,"w":1028,"e":0.03},{"p":11,"w":1031.5,"e":0.072},{"p":11,"w":1033,"e":0.04},{"p":11,"w":1035.3,"e":0.07},
{"p":12,"w":800,"f":0.01},{"p":12,"w":803,"f":0.06},{"p":12,"w":805,"f":0.0},{"p":12,"w":808,"f":0.02},{"p":12,"w":811,"f":0.0},{"p":12,"w":814,"f":0.05},{"p":12,"w":816,"f":0.1},{"p":12,"w":818,"f":0.02},{"p":12,"w":821,"f":0.0},{"p":12,"w":824,"f":0.04},{"p":12,"w":827,"f":0.01},{"p":12,"w":830,"f":0.07},{"p":12,"w":832,"f":0.0},{"p":12,"w":835,"f":0.03},{"p":12,"w":838,"f":0.0},{"p":12,"w":841,"f":0.05},{"p":12,"w":844,"f":0.01},{"p":12,"w":847,"f":0.0},{"p":12,"w":850,"f":0.04},{"p":12,"w":853,"f":0.08},{"p":12,"w":855,"f":0.0},{"p":12,"w":858,"f":0.02},{"p":12,"w":861,"f":0.0},{"p":12,"w":864,"f":0.05},{"p":12,"w":867,"f":0.01},{"p":12,"w":870,"f":0.03},{"p":12,"w":873,"f":0.0},{"p":12,"w":877,"f":0.066},{"p":12,"w":880,"f":0.01},{"p":12,"w":883,"f":0.0},{"p":12,"w":886,"f":0.03},{"p":12,"w":889,"f":0.0},{"p":12,"w":892,"f":0.02},{"p":12,"w":896,"f":0.06},{"p":12,"w":899,"f":0.0},{"p":12,"w":902,"f":0.01},{"p":12,"w":905,"f":0.0},{"p":12,"w":908,"f":0.03},{"p":12,"w":911,"f":0.05},{"p":12,"w":914,"f":0.0},{"p":12,"w":917,"f":0.02},{"p":12,"w":919,"f":0.05},{"p":12,"w":922,"f":0.0},{"p":12,"w":925,"f":0.01},{"p":12,"w":928,"f":0.0},{"p":12,"w":929,"f":0.066},{"p":12,"w":931,"f":0.128},{"p":12,"w":933,"f":0.04},{"p":12,"w":935,"f":0.03},{"p":12,"w":938,"f":0.128},{"p":12,"w":940,"f":0.05},{"p":12,"w":942,"f":0.01},{"p":12,"w":944,"f":0.066},{"p":12,"w":947,"f":0.02},{"p":12,"w":950,"f":0.08},{"p":12,"w":952,"f":0.0},{"p":12,"w":955,"f":0.04},{"p":12,"w":957,"f":0.118},{"p":12,"w":959,"f":0.02},{"p":12,"w":962,"f":0.0},{"p":12,"w":965,"f":0.06},{"p":12,"w":968,"f":0.1},{"p":12,"w":970,"f":0.02},{"p":12,"w":973,"f":0.07},{"p":12,"w":976,"f":0.0},{"p":12,"w":979,"f":0.05},{"p":12,"w":982,"f":0.11},{"p":12,"w":984,"f":0.03},{"p":12,"w":987,"f":0.06},{"p":12,"w":990,"f":0.0},{"p":12,"w":993,"f":0.08},{"p":12,"w":996,"f":0.04},{"p":12,"w":999,"f":0.12},{"p":12,"w":1002,"f":0.02},{"p":12,"w":1005,"f":0.06},{"p":12,"w":1008,"f":0.09},{"p":12,"w":1011,"f":0.01},{"p":12,"w":1014,"f":0.07},{"p":12,"w":1017,"f":0.03},{"p":12,"w":1020,"f":0.1},{"p":12,"w":1023,"f":0.04},{"p":12,"w":1026,"f":0.13},{"p":12,"w":1029,"f":0.05},{"p":12,"w":1032,"f":0.0},{"p":12,"w":1035,"f":0.08},{"p":12,"w":1038,"f":0.04},{"p":12,"w":1041,"f":0.1},{"p":12,"w":1044,"f":0.02},{"p":12,"w":1047,"f":0.06},{"p":12,"w":1050,"f":0.09},{"p":12,"w":1053,"f":0.0},{"p":12,"w":1056,"f":0.05},{"p":12,"w":1059,"f":0.08},{"p":12,"w":1062,"f":0.02},{"p":12,"w":1065,"f":0.07},{"p":12,"w":1068,"f":0.1},{"p":12,"w":1071,"f":0.03},{"p":12,"w":1074,"f":0.06},{"p":12,"w":1077,"f":0.0},{"p":12,"w":1080,"f":0.04},{"p":12,"w":1083,"f":0.09},{"p":12,"w":1086,"f":0.02},{"p":12,"w":1089,"f":0.05},{"p":12,"w":1092,"f":0.0},{"p":12,"w":1095,"f":0.07},{"p":12,"w":1098,"f":0.03},{"p":12,"w":1101,"f":0.05},{"p":12,"w":1104,"f":0.01},{"p":12,"w":1107,"f":0.04},{"p":12,"w":1110,"f":0.06},{"p":12,"w":1113,"f":0.02},{"p":12,"w":1116,"f":0.05},{"p":12,"w":1119,"f":0.0},{"p":12,"w":1122,"f":0.04},{"p":12,"w":1125,"f":0.08},{"p":12,"w":1128,"f":0.03},{"p":12,"w":1131,"f":0.1},{"p":12,"w":1134,"f":0.05},{"p":12,"w":1137,"f":0.11},{"p":12,"w":1140,"f":0.02},{"p":12,"w":1143,"f":0.07},{"p":12,"w":1146,"f":0.04},{"p":12,"w":1149,"f":0.09},{"p":12,"w":1152,"f":0.0},{"p":12,"w":1155,"f":0.06},{"p":12,"w":1158,"f":0.03},{"p":12,"w":1161,"f":0.08},{"p":12,"w":1164,"f":0.05},{"p":12,"w":1167,"f":0.02},{"p":12,"w":1170,"f":0.07},{"p":12,"w":1173,"f":0.1},{"p":12,"w":1176,"f":0.04},{"p":12,"w":1180,"f":0.06},
{"p":12,"w":800,"e":0.04},{"p":12,"w":830,"e":0.042},{"p":12,"w":860,"e":0.04},{"p":12,"w":890,"e":0.04},{"p":12,"w":920,"e":0.038},{"p":12,"w":940,"e":0.03},{"p":12,"w":960,"e":0.032},{"p":12,"w":980,"e":0.028},{"p":12,"w":1000,"e":0.03},{"p":12,"w":1020,"e":0.032},{"p":12,"w":1040,"e":0.03},{"p":12,"w":1060,"e":0.035},{"p":12,"w":1080,"e":0.03},{"p":12,"w":1100,"e":0.028},{"p":12,"w":1120,"e":0.035},{"p":12,"w":1140,"e":0.04},{"p":12,"w":1160,"e":0.035},{"p":12,"w":1180,"e":0.03},
{"p":13,"w":882,"f":0.02},{"p":13,"w":884,"f":0.05},{"p":13,"w":886,"f":0.01},{"p":13,"w":889,"f":0.03},{"p":13,"w":892,"f":0.0},{"p":13,"w":895,"f":0.02},{"p":13,"w":898,"f":0.01},{"p":13,"w":901,"f":0.03},{"p":13,"w":904,"f":0.0},{"p":13,"w":907,"f":0.02},{"p":13,"w":910,"f":0.01},{"p":13,"w":913,"f":0.02},{"p":13,"w":916,"f":0.0},{"p":13,"w":919,"f":0.015},{"p":13,"w":922,"f":0.01},{"p":13,"w":924,"f":0.02},{"p":13,"w":925.2,"f":0.06},{"p":13,"w":926.3,"f":0.25},{"p":13,"w":927.5,"f":0.35},{"p":13,"w":928.6,"f":0.69},{"p":13,"w":929.6,"f":0.27},{"p":13,"w":931,"f":0.48},{"p":13,"w":932,"f":0.3},{"p":13,"w":934.5,"f":0.22},{"p":13,"w":937,"f":0.24},{"p":13,"w":940,"f":0.2},{"p":13,"w":943,"f":0.26},{"p":13,"w":946,"f":0.22},{"p":13,"w":949,"f":0.2},{"p":13,"w":952,"f":0.18},{"p":13,"w":955,"f":0.2},{"p":13,"w":958,"f":0.17},{"p":13,"w":961,"f":0.19},{"p":13,"w":964,"f":0.16},{"p":13,"w":967,"f":0.18},{"p":13,"w":970,"f":0.15},{"p":13,"w":973,"f":0.17},{"p":13,"w":976,"f":0.14},{"p":13,"w":979,"f":0.16},{"p":13,"w":982,"f":0.12},{"p":13,"w":984,"f":0.07},{"p":13,"w":987,"f":0.06},{"p":13,"w":989,"f":0.02},{"p":13,"w":991,"f":0.15},{"p":13,"w":992.5,"f":0.25},{"p":13,"w":994.7,"f":0.33},{"p":13,"w":996,"f":0.2},{"p":13,"w":998,"f":0.15},{"p":13,"w":1001,"f":0.19},{"p":13,"w":1004,"f":0.14},{"p":13,"w":1007,"f":0.18},{"p":13,"w":1010,"f":0.15},{"p":13,"w":1013,"f":0.3},{"p":13,"w":1015,"f":0.17},{"p":13,"w":1016.5,"f":0.2},{"p":13,"w":1018,"f":0.36},{"p":13,"w":1020,"f":0.22},{"p":13,"w":1022.5,"f":0.26},{"p":13,"w":1024,"f":0.18},{"p":13,"w":1026,"f":0.15},{"p":13,"w":1027.5,"f":0.22},{"p":13,"w":1029.5,"f":0.635},{"p":13,"w":1031,"f":0.3},{"p":13,"w":1032.5,"f":0.15},{"p":13,"w":1034,"f":0.1},{"p":13,"w":1035.3,"f":0.04},
{"p":13,"w":882,"e":0.01},{"p":13,"w":900,"e":0.012},{"p":13,"w":925,"e":0.015},{"p":13,"w":929,"e":0.06},{"p":13,"w":931,"e":0.03},{"p":13,"w":950,"e":0.03},{"p":13,"w":980,"e":0.03},{"p":13,"w":1000,"e":0.035},{"p":13,"w":1020,"e":0.05},{"p":13,"w":1029,"e":0.12},{"p":13,"w":1031,"e":0.08},{"p":13,"w":1035.3,"e":0.1},
{"p":14,"w":882,"f":0.01},{"p":14,"w":884,"f":0.03},{"p":14,"w":886,"f":0.0},{"p":14,"w":889,"f":0.02},{"p":14,"w":892,"f":0.0},{"p":14,"w":895,"f":0.03},{"p":14,"w":898,"f":0.005},{"p":14,"w":901,"f":0.02},{"p":14,"w":904,"f":0.0},{"p":14,"w":907,"f":0.015},{"p":14,"w":910,"f":0.03},{"p":14,"w":913,"f":0.0},{"p":14,"w":916,"f":0.02},{"p":14,"w":919,"f":0.005},{"p":14,"w":922,"f":0.025},{"p":14,"w":924.5,"f":0.01},{"p":14,"w":926.3,"f":0.07},{"p":14,"w":928,"f":0.38},{"p":14,"w":929.2,"f":0.51},{"p":14,"w":931,"f":0.45},{"p":14,"w":933,"f":0.48},{"p":14,"w":935,"f":0.42},{"p":14,"w":938,"f":0.38},{"p":14,"w":940.2,"f":0.51},{"p":14,"w":942,"f":0.4},{"p":14,"w":944,"f":0.36},{"p":14,"w":947.2,"f":0.33},{"p":14,"w":949.5,"f":0.37},{"p":14,"w":951.8,"f":0.37},{"p":14,"w":954,"f":0.3},{"p":14,"w":957,"f":0.31},{"p":14,"w":960,"f":0.27},{"p":14,"w":963,"f":0.26},{"p":14,"w":966,"f":0.25},{"p":14,"w":969,"f":0.27},{"p":14,"w":972,"f":0.23},{"p":14,"w":975,"f":0.25},{"p":14,"w":978,"f":0.26},{"p":14,"w":980.8,"f":0.33},{"p":14,"w":983,"f":0.27},{"p":14,"w":986,"f":0.29},{"p":14,"w":989,"f":0.27},{"p":14,"w":992,"f":0.3},{"p":14,"w":994.7,"f":0.36},{"p":14,"w":996,"f":0.07},{"p":14,"w":998,"f":0.3},{"p":14,"w":1001,"f":0.28},{"p":14,"w":1004,"f":0.26},{"p":14,"w":1007,"f":0.3},{"p":14,"w":1010,"f":0.27},{"p":14,"w":1013,"f":0.31},{"p":14,"w":1016,"f":0.28},{"p":14,"w":1018,"f":0.38},{"p":14,"w":1019.5,"f":-0.01},{"p":14,"w":1021,"f":0.32},{"p":14,"w":1023,"f":0.28},{"p":14,"w":1025,"f":0.34},{"p":14,"w":1026.5,"f":0.22},{"p":14,"w":1028.3,"f":0.47},{"p":14,"w":1029.7,"f":0.0},{"p":14,"w":1031,"f":0.3},{"p":14,"w":1033,"f":0.45},{"p":14,"w":1034,"f":0.3},{"p":14,"w":1035.3,"f":0.35},
{"p":14,"w":882,"e":0.07},{"p":14,"w":886,"e":0.04},{"p":14,"w":900,"e":0.035},{"p":14,"w":925,"e":0.035},{"p":14,"w":929,"e":0.05},{"p":14,"w":940,"e":0.03},{"p":14,"w":980,"e":0.03},{"p":14,"w":1010,"e":0.04},{"p":14,"w":1020,"e":0.06},{"p":14,"w":1028,"e":0.07},{"p":14,"w":1033,"e":0.1},{"p":14,"w":1035.3,"e":0.14},
{"p":15,"w":882.7,"f":1.1},{"p":15,"w":883.2,"f":0.05},{"p":15,"w":885,"f":0.1},{"p":15,"w":887,"f":0.19},{"p":15,"w":889,"f":0.12},{"p":15,"w":891.6,"f":0.19},{"p":15,"w":894,"f":0.06},{"p":15,"w":897,"f":0.09},{"p":15,"w":900,"f":0.03},{"p":15,"w":903,"f":0.07},{"p":15,"w":906,"f":0.04},{"p":15,"w":909,"f":0.08},{"p":15,"w":912,"f":0.03},{"p":15,"w":915,"f":0.06},{"p":15,"w":918,"f":0.09},{"p":15,"w":920,"f":0.15},{"p":15,"w":921.7,"f":0.27},{"p":15,"w":923,"f":0.04},{"p":15,"w":924.5,"f":0.2},{"p":15,"w":925.7,"f":0.54},{"p":15,"w":927,"f":0.48},{"p":15,"w":928.5,"f":0.4},{"p":15,"w":930,"f":0.3},{"p":15,"w":931.5,"f":0.19},{"p":15,"w":934,"f":0.24},{"p":15,"w":937,"f":0.22},{"p":15,"w":940,"f":0.25},{"p":15,"w":942,"f":0.23},{"p":15,"w":944.3,"f":0.27},{"p":15,"w":947,"f":0.22},{"p":15,"w":950,"f":0.2},{"p":15,"w":953,"f":0.22},{"p":15,"w":956,"f":0.19},{"p":15,"w":959,"f":0.21},{"p":15,"w":962,"f":0.18},{"p":15,"w":965,"f":0.2},{"p":15,"w":968,"f":0.17},{"p":15,"w":971,"f":0.22},{"p":15,"w":974,"f":0.19},{"p":15,"w":977,"f":0.21},{"p":15,"w":980,"f":0.17},{"p":15,"w":983,"f":0.2},{"p":15,"w":986,"f":0.18},{"p":15,"w":989,"f":0.15},{"p":15,"w":992,"f":0.12},{"p":15,"w":995,"f":0.19},{"p":15,"w":998,"f":0.16},{"p":15,"w":1001,"f":0.14},{"p":15,"w":1004,"f":0.18},{"p":15,"w":1007,"f":0.13},{"p":15,"w":1010,"f":0.16},{"p":15,"w":1013,"f":0.11},{"p":15,"w":1016,"f":0.15},{"p":15,"w":1019,"f":0.1},{"p":15,"w":1021,"f":0.13},{"p":15,"w":1023,"f":0.0},{"p":15,"w":1025,"f":0.2},{"p":15,"w":1027.2,"f":0.37},{"p":15,"w":1028.5,"f":0.05},{"p":15,"w":1030,"f":0.1},{"p":15,"w":1031.2,"f":0.35},{"p":15,"w":1032.5,"f":0.02},{"p":15,"w":1034.7,"f":0.32},{"p":15,"w":1035.3,"f":0.2},
{"p":15,"w":882.7,"e":0.05},{"p":15,"w":900,"e":0.04},{"p":15,"w":920,"e":0.04},{"p":15,"w":926,"e":0.05},{"p":15,"w":940,"e":0.04},{"p":15,"w":980,"e":0.045},{"p":15,"w":1000,"e":0.05},{"p":15,"w":1020,"e":0.06},{"p":15,"w":1030,"e":0.08},{"p":15,"w":1035.3,"e":0.12},
{"p":16,"w":800,"f":0.03},{"p":16,"w":803,"f":0.0},{"p":16,"w":806,"f":0.02},{"p":16,"w":810,"f":0.01},{"p":16,"w":813,"f":0.095},{"p":16,"w":816,"f":0.02},{"p":16,"w":820,"f":0.03},{"p":16,"w":824,"f":0.01},{"p":16,"w":827,"f":0.04},{"p":16,"w":830,"f":0.14},{"p":16,"w":833,"f":0.03},{"p":16,"w":836,"f":0.02},{"p":16,"w":839,"f":0.05},{"p":16,"w":842,"f":0.14},{"p":16,"w":845,"f":0.03},{"p":16,"w":848,"f":0.01},{"p":16,"w":851,"f":0.04},{"p":16,"w":854,"f":0.02},{"p":16,"w":857,"f":0.05},{"p":16,"w":860,"f":0.01},{"p":16,"w":864,"f":0.04},{"p":16,"w":868,"f":0.02},{"p":16,"w":872,"f":0.05},{"p":16,"w":875,"f":0.01},{"p":16,"w":878,"f":0.15},{"p":16,"w":881,"f":0.03},{"p":16,"w":884,"f":0.02},{"p":16,"w":887,"f":0.05},{"p":16,"w":890,"f":0.01},{"p":16,"w":892,"f":0.09},{"p":16,"w":895,"f":0.02},{"p":16,"w":898,"f":0.04},{"p":16,"w":901,"f":0.01},{"p":16,"w":904,"f":0.05},{"p":16,"w":907,"f":0.02},{"p":16,"w":910,"f":0.04},{"p":16,"w":913,"f":0.01},{"p":16,"w":916,"f":0.03},{"p":16,"w":918,"f":0.05},{"p":16,"w":919.5,"f":0.1},{"p":16,"w":921,"f":0.21},{"p":16,"w":923,"f":0.17},{"p":16,"w":925,"f":0.2},{"p":16,"w":927,"f":0.16},{"p":16,"w":929,"f":0.22},{"p":16,"w":931,"f":0.18},{"p":16,"w":933,"f":0.15},{"p":16,"w":935,"f":0.12},{"p":16,"w":937,"f":0.1},{"p":16,"w":939,"f":0.14},{"p":16,"w":941,"f":0.16},{"p":16,"w":943,"f":0.18},{"p":16,"w":946,"f":0.17},{"p":16,"w":949,"f":0.12},{"p":16,"w":952,"f":0.16},{"p":16,"w":955,"f":0.14},{"p":16,"w":958,"f":0.17},{"p":16,"w":961,"f":0.13},{"p":16,"w":964,"f":0.16},{"p":16,"w":967,"f":0.12},{"p":16,"w":970,"f":0.15},{"p":16,"w":973,"f":0.13},{"p":16,"w":976,"f":0.17},{"p":16,"w":979,"f":0.14},{"p":16,"w":982,"f":0.12},{"p":16,"w":985,"f":0.15},{"p":16,"w":988,"f":0.18},{"p":16,"w":991,"f":0.14},{"p":16,"w":994,"f":0.16},{"p":16,"w":996,"f":0.22},{"p":16,"w":999,"f":0.14},{"p":16,"w":1002,"f":0.16},{"p":16,"w":1005,"f":0.23},{"p":16,"w":1008,"f":0.0},{"p":16,"w":1011,"f":0.08},{"p":16,"w":1014,"f":0.1},{"p":16,"w":1017,"f":0.07},{"p":16,"w":1020,"f":0.09},{"p":16,"w":1023,"f":0.08},{"p":16,"w":1026,"f":0.1},{"p":16,"w":1028.7,"f":-0.01},{"p":16,"w":1031,"f":0.07},{"p":16,"w":1034,"f":0.09},{"p":16,"w":1037,"f":0.06},{"p":16,"w":1040,"f":0.0},{"p":16,"w":1043,"f":0.08},{"p":16,"w":1046,"f":0.07},{"p":16,"w":1049,"f":0.09},{"p":16,"w":1051,"f":0.16},{"p":16,"w":1054,"f":0.12},{"p":16,"w":1057,"f":0.14},{"p":16,"w":1060,"f":0.11},{"p":16,"w":1063,"f":0.15},{"p":16,"w":1066,"f":0.12},{"p":16,"w":1069,"f":0.14},{"p":16,"w":1072,"f":0.19},{"p":16,"w":1075,"f":0.13},{"p":16,"w":1078,"f":0.12},{"p":16,"w":1081,"f":0.1},{"p":16,"w":1083,"f":0.07},{"p":16,"w":1086,"f":0.11},{"p":16,"w":1089,"f":0.09},{"p":16,"w":1092,"f":0.12},{"p":16,"w":1095,"f":0.08},{"p":16,"w":1098,"f":0.1},{"p":16,"w":1100.6,"f":-0.01},{"p":16,"w":1103,"f":0.1},{"p":16,"w":1106,"f":0.13},{"p":16,"w":1109,"f":0.11},{"p":16,"w":1112,"f":0.14},{"p":16,"w":1115,"f":0.1},{"p":16,"w":1118,"f":0.12},{"p":16,"w":1121,"f":0.11},{"p":16,"w":1124,"f":0.14},{"p":16,"w":1127,"f":0.1},{"p":16,"w":1130,"f":0.13},{"p":16,"w":1133,"f":0.11},{"p":16,"w":1136,"f":0.12},{"p":16,"w":1139,"f":0.1},{"p":16,"w":1142,"f":0.13},{"p":16,"w":1145,"f":0.16},{"p":16,"w":1148,"f":0.12},{"p":16,"w":1151,"f":0.11},{"p":16,"w":1154,"f":0.14},{"p":16,"w":1157,"f":0.12},{"p":16,"w":1160,"f":0.15},{"p":16,"w":1163,"f":0.11},{"p":16,"w":1166,"f":0.13},{"p":16,"w":1169,"f":0.16},{"p":16,"w":1172,"f":0.12},{"p":16,"w":1175,"f":0.14},{"p":16,"w":1178,"f":0.16},{"p":16,"w":1180,"f":0.14},
{"p":16,"w":800,"e":0.035},{"p":16,"w":820,"e":0.04},{"p":16,"w":840,"e":0.035},{"p":16,"w":860,"e":0.04},{"p":16,"w":880,"e":0.035},{"p":16,"w":900,"e":0.03},{"p":16,"w":920,"e":0.035},{"p":16,"w":940,"e":0.03},{"p":16,"w":960,"e":0.035},{"p":16,"w":980,"e":0.03},{"p":16,"w":1000,"e":0.04},{"p":16,"w":1020,"e":0.03},{"p":16,"w":1040,"e":0.035},{"p":16,"w":1060,"e":0.03},{"p":16,"w":1080,"e":0.045},{"p":16,"w":1100,"e":0.035},{"p":16,"w":1120,"e":0.03},{"p":16,"w":1140,"e":0.035},{"p":16,"w":1160,"e":0.04},{"p":16,"w":1180,"e":0.035}
]},
"data":{"name":"d"},
"bounds":"flush",
"spacing":0,
"vconcat":[
{"transform":[{"filter":"datum.p==1"}],"resolve":{"axis":{"x":"independent","y":"independent"}},"layer":[
{"mark":{"type":"area","interpolate":"step","color":"#cbcbcb","clip":true},"encoding":{"x":{"field":"w","type":"quantitative","scale":{"domain":[800,1180],"nice":false},"axis":{"orient":"bottom","tickCount":8,"tickSize":-11,"labels":false,"title":null}},"y":{"field":"f","type":"quantitative","scale":{"domain":[-0.026,0.213],"nice":false},"axis":{"orient":"left","values":[0,0.1],"tickSize":-10,"labelPadding":23,"labelExpr":"datum.value?format(datum.value,'.2f'):'0'","title":null}},"y2":{"datum":0}}},
{"data":{"values":[{}]},"mark":{"type":"rule","color":"#999","strokeDash":[5,3],"strokeWidth":1},"encoding":{"y":{"datum":0,"axis":{"orient":"right","values":[-0.02,0,0.02,0.04,0.06,0.08,0.1,0.12,0.14,0.16,0.18,0.2],"tickSize":-5,"labels":false,"title":null}}}},
{"mark":{"type":"line","interpolate":"monotone","color":"#f2877c","strokeWidth":1.1,"clip":true},"encoding":{"x":{"field":"w","type":"quantitative","axis":{"orient":"bottom","tickCount":38,"tickSize":-6,"labels":false,"title":null}},"y":{"field":"e","type":"quantitative","axis":{"orient":"left","values":[-0.02,0,0.02,0.04,0.06,0.08,0.1,0.12,0.14,0.16,0.18,0.2],"tickSize":-5,"labels":false,"title":null}}}},
{"mark":{"type":"rule","color":"#6aaaf2","strokeWidth":2.2,"strokeDash":[10,6]},"encoding":{"x":{"field":"l","type":"quantitative","axis":{"orient":"top","tickCount":38,"tickSize":-6,"labels":false,"title":null}}}},
{"mark":{"type":"line","interpolate":"step","color":"black","strokeWidth":1.7,"clip":true},"encoding":{"x":{"field":"w","type":"quantitative","axis":{"orient":"top","tickCount":8,"tickSize":-11,"labels":false,"title":null}},"y":{"field":"f","type":"quantitative","axis":{"orient":"right","values":[0,0.1],"tickSize":-10,"labels":false,"title":null}}}},
{"transform":[{"filter":"datum.t"}],"mark":{"type":"text","fontStyle":"italic","align":"left"},"encoding":{"x":{"datum":811.5,"axis":null},"y":{"datum":0.125,"axis":null},"text":{"value":"z"}}},
{"transform":[{"filter":"datum.t"}],"mark":{"type":"text","align":"left"},"encoding":{"x":{"datum":816.5,"axis":null},"y":{"datum":0.125,"axis":null},"text":{"field":"t"}}},
{"transform":[{"filter":"datum.t"}],"mark":{"type":"text","align":"right","fontSize":16},"encoding":{"x":{"datum":1165,"axis":null},"y":{"datum":0.125,"axis":null},"text":{"field":"i"}}}]},
{"transform":[{"filter":"datum.p==2"}],"resolve":{"axis":{"x":"independent","y":"independent"}},"layer":[
{"mark":{"type":"area","interpolate":"step","color":"#cbcbcb","clip":true},"encoding":{"x":{"field":"w","type":"quantitative","scale":{"domain":[800,1180],"nice":false},"axis":{"orient":"bottom","tickCount":8,"tickSize":-11,"labels":false,"title":null}},"y":{"field":"f","type":"quantitative","scale":{"domain":[-0.035,0.358],"nice":false},"axis":{"orient":"left","values":[0,0.15],"tickSize":-10,"labelPadding":23,"labelExpr":"datum.value?format(datum.value,'.2f'):'0'","title":null}},"y2":{"datum":0}}},
{"data":{"values":[{}]},"mark":{"type":"rule","color":"#999","strokeDash":[5,3],"strokeWidth":1},"encoding":{"y":{"datum":0,"axis":{"orient":"right","values":[0,0.0375,0.075,0.1125,0.15,0.1875,0.225,0.2625,0.3,0.3375],"tickSize":-5,"labels":false,"title":null}}}},
{"mark":{"type":"line","interpolate":"monotone","color":"#f2877c","strokeWidth":1.1,"clip":true},"encoding":{"x":{"field":"w","type":"quantitative","axis":{"orient":"bottom","tickCount":38,"tickSize":-6,"labels":false,"title":null}},"y":{"field":"e","type":"quantitative","axis":{"orient":"left","values":[0,0.0375,0.075,0.1125,0.15,0.1875,0.225,0.2625,0.3,0.3375],"tickSize":-5,"labels":false,"title":null}}}},
{"mark":{"type":"rule","color":"#6aaaf2","strokeWidth":2.2,"strokeDash":[10,6]},"encoding":{"x":{"field":"l","type":"quantitative","axis":{"orient":"top","tickCount":38,"tickSize":-6,"labels":false,"title":null}}}},
{"mark":{"type":"line","interpolate":"step","color":"black","strokeWidth":1.7,"clip":true},"encoding":{"x":{"field":"w","type":"quantitative","axis":{"orient":"top","tickCount":8,"tickSize":-11,"labels":false,"title":null}},"y":{"field":"f","type":"quantitative","axis":{"orient":"right","values":[0,0.15],"tickSize":-10,"labels":false,"title":null}}}},
{"transform":[{"filter":"datum.t"}],"mark":{"type":"text","fontStyle":"italic","align":"left"},"encoding":{"x":{"datum":811.5,"axis":null},"y":{"datum":0.2135,"axis":null},"text":{"value":"z"}}},
{"transform":[{"filter":"datum.t"}],"mark":{"type":"text","align":"left"},"encoding":{"x":{"datum":816.5,"axis":null},"y":{"datum":0.2135,"axis":null},"text":{"field":"t"}}},
{"transform":[{"filter":"datum.t"}],"mark":{"type":"text","align":"right","fontSize":16},"encoding":{"x":{"datum":1165,"axis":null},"y":{"datum":0.2135,"axis":null},"text":{"field":"i"}}}]},
{"transform":[{"filter":"datum.p==3"}],"resolve":{"axis":{"x":"independent","y":"independent"}},"layer":[
{"mark":{"type":"area","interpolate":"linear","color":"#cbcbcb","clip":true},"encoding":{"x":{"field":"w","type":"quantitative","scale":{"domain":[800,1180],"nice":false},"axis":{"orient":"bottom","tickCount":8,"tickSize":-11,"labels":false,"title":null}},"y":{"field":"f","type":"quantitative","scale":{"domain":[-0.04,0.336],"nice":false},"axis":{"orient":"left","values":[0,0.15],"tickSize":-10,"labelPadding":23,"labelExpr":"datum.value?format(datum.value,'.2f'):'0'","title":null}},"y2":{"datum":0}}},
{"data":{"values":[{}]},"mark":{"type":"rule","color":"#999","strokeDash":[5,3],"strokeWidth":1},"encoding":{"y":{"datum":0,"axis":{"orient":"right","values":[-0.0375,0,0.0375,0.075,0.1125,0.15,0.1875,0.225,0.2625,0.3],"tickSize":-5,"labels":false,"title":null}}}},
{"mark":{"type":"line","interpolate":"monotone","color":"#f2877c","strokeWidth":1.1,"clip":true},"encoding":{"x":{"field":"w","type":"quantitative","axis":{"orient":"bottom","tickCount":38,"tickSize":-6,"labels":false,"title":null}},"y":{"field":"e","type":"quantitative","axis":{"orient":"left","values":[-0.0375,0,0.0375,0.075,0.1125,0.15,0.1875,0.225,0.2625,0.3],"tickSize":-5,"labels":false,"title":null}}}},
{"mark":{"type":"rule","color":"#6aaaf2","strokeWidth":2.2,"strokeDash":[10,6]},"encoding":{"x":{"field":"l","type":"quantitative","axis":{"orient":"top","tickCount":38,"tickSize":-6,"labels":false,"title":null}}}},
{"mark":{"type":"line","interpolate":"linear","color":"black","strokeWidth":1.7,"clip":true},"encoding":{"x":{"field":"w","type":"quantitative","axis":{"orient":"top","tickCount":8,"tickSize":-11,"labels":false,"title":null}},"y":{"field":"f","type":"quantitative","axis":{"orient":"right","values":[0,0.15],"tickSize":-10,"labels":false,"title":null}}}},
{"transform":[{"filter":"datum.t"}],"mark":{"type":"text","fontStyle":"italic","align":"left"},"encoding":{"x":{"datum":811.5,"axis":null},"y":{"datum":0.198,"axis":null},"text":{"value":"z"}}},
{"transform":[{"filter":"datum.t"}],"mark":{"type":"text","align":"left"},"encoding":{"x":{"datum":816.5,"axis":null},"y":{"datum":0.198,"axis":null},"text":{"field":"t"}}},
{"transform":[{"filter":"datum.t"}],"mark":{"type":"text","align":"right","fontSize":16},"encoding":{"x":{"datum":1165,"axis":null},"y":{"datum":0.198,"axis":null},"text":{"field":"i"}}}]},
{"transform":[{"filter":"datum.p==4"}],"resolve":{"axis":{"x":"independent","y":"independent"}},"layer":[
{"mark":{"type":"area","interpolate":"linear","color":"#cbcbcb","clip":true},"encoding":{"x":{"field":"w","type":"quantitative","scale":{"domain":[800,1180],"nice":false},"axis":{"orient":"bottom","tickCount":8,"tickSize":-11,"labels":false,"title":null}},"y":{"field":"f","type":"quantitative","scale":{"domain":[-0.047,0.335],"nice":false},"axis":{"orient":"left","values":[0,0.15],"tickSize":-10,"labelPadding":23,"labelExpr":"datum.value?format(datum.value,'.2f'):'0'","title":null}},"y2":{"datum":0}}},
{"data":{"values":[{}]},"mark":{"type":"rule","color":"#999","strokeDash":[5,3],"strokeWidth":1},"encoding":{"y":{"datum":0,"axis":{"orient":"right","values":[-0.0375,0,0.0375,0.075,0.1125,0.15,0.1875,0.225,0.2625,0.3],"tickSize":-5,"labels":false,"title":null}}}},
{"mark":{"type":"line","interpolate":"monotone","color":"#f2877c","strokeWidth":1.1,"clip":true},"encoding":{"x":{"field":"w","type":"quantitative","axis":{"orient":"bottom","tickCount":38,"tickSize":-6,"labels":false,"title":null}},"y":{"field":"e","type":"quantitative","axis":{"orient":"left","values":[-0.0375,0,0.0375,0.075,0.1125,0.15,0.1875,0.225,0.2625,0.3],"tickSize":-5,"labels":false,"title":null}}}},
{"mark":{"type":"rule","color":"#6aaaf2","strokeWidth":2.2,"strokeDash":[10,6]},"encoding":{"x":{"field":"l","type":"quantitative","axis":{"orient":"top","tickCount":38,"tickSize":-6,"labels":false,"title":null}}}},
{"mark":{"type":"line","interpolate":"linear","color":"black","strokeWidth":1.7,"clip":true},"encoding":{"x":{"field":"w","type":"quantitative","axis":{"orient":"top","tickCount":8,"tickSize":-11,"labels":false,"title":null}},"y":{"field":"f","type":"quantitative","axis":{"orient":"right","values":[0,0.15],"tickSize":-10,"labels":false,"title":null}}}},
{"transform":[{"filter":"datum.t"}],"mark":{"type":"text","fontStyle":"italic","align":"left"},"encoding":{"x":{"datum":811.5,"axis":null},"y":{"datum":0.1946,"axis":null},"text":{"value":"z"}}},
{"transform":[{"filter":"datum.t"}],"mark":{"type":"text","align":"left"},"encoding":{"x":{"datum":816.5,"axis":null},"y":{"datum":0.1946,"axis":null},"text":{"field":"t"}}},
{"transform":[{"filter":"datum.t"}],"mark":{"type":"text","align":"right","fontSize":16},"encoding":{"x":{"datum":1165,"axis":null},"y":{"datum":0.1946,"axis":null},"text":{"field":"i"}}}]},
{"transform":[{"filter":"datum.p==5"}],"resolve":{"axis":{"x":"independent","y":"independent"}},"layer":[
{"mark":{"type":"area","interpolate":"step","color":"#cbcbcb","clip":true},"encoding":{"x":{"field":"w","type":"quantitative","scale":{"domain":[800,1180],"nice":false},"axis":{"orient":"bottom","tickCount":8,"tickSize":-11,"labels":false,"title":null}},"y":{"field":"f","type":"quantitative","scale":{"domain":[-0.043,0.336],"nice":false},"axis":{"orient":"left","values":[0,0.15],"tickSize":-10,"labelPadding":23,"labelExpr":"datum.value?format(datum.value,'.2f'):'0'","title":null}},"y2":{"datum":0}}},
{"data":{"values":[{}]},"mark":{"type":"rule","color":"#999","strokeDash":[5,3],"strokeWidth":1},"encoding":{"y":{"datum":0,"axis":{"orient":"right","values":[-0.0375,0,0.0375,0.075,0.1125,0.15,0.1875,0.225,0.2625,0.3],"tickSize":-5,"labels":false,"title":null}}}},
{"mark":{"type":"line","interpolate":"monotone","color":"#f2877c","strokeWidth":1.1,"clip":true},"encoding":{"x":{"field":"w","type":"quantitative","axis":{"orient":"bottom","tickCount":38,"tickSize":-6,"labels":false,"title":null}},"y":{"field":"e","type":"quantitative","axis":{"orient":"left","values":[-0.0375,0,0.0375,0.075,0.1125,0.15,0.1875,0.225,0.2625,0.3],"tickSize":-5,"labels":false,"title":null}}}},
{"mark":{"type":"rule","color":"#6aaaf2","strokeWidth":2.2,"strokeDash":[10,6]},"encoding":{"x":{"field":"l","type":"quantitative","axis":{"orient":"top","tickCount":38,"tickSize":-6,"labels":false,"title":null}}}},
{"mark":{"type":"line","interpolate":"step","color":"black","strokeWidth":1.7,"clip":true},"encoding":{"x":{"field":"w","type":"quantitative","axis":{"orient":"top","tickCount":8,"tickSize":-11,"labels":false,"title":null}},"y":{"field":"f","type":"quantitative","axis":{"orient":"right","values":[0,0.15],"tickSize":-10,"labels":false,"title":null}}}},
{"transform":[{"filter":"datum.t"}],"mark":{"type":"text","fontStyle":"italic","align":"left"},"encoding":{"x":{"datum":811.5,"axis":null},"y":{"datum":0.197,"axis":null},"text":{"value":"z"}}},
{"transform":[{"filter":"datum.t"}],"mark":{"type":"text","align":"left"},"encoding":{"x":{"datum":816.5,"axis":null},"y":{"datum":0.197,"axis":null},"text":{"field":"t"}}},
{"transform":[{"filter":"datum.t"}],"mark":{"type":"text","align":"right","fontSize":16},"encoding":{"x":{"datum":1165,"axis":null},"y":{"datum":0.197,"axis":null},"text":{"field":"i"}}}]},
{"transform":[{"filter":"datum.p==6"}],"resolve":{"axis":{"x":"independent","y":"independent"}},"layer":[
{"mark":{"type":"area","interpolate":"linear","color":"#cbcbcb","clip":true},"encoding":{"x":{"field":"w","type":"quantitative","scale":{"domain":[800,1180],"nice":false},"axis":{"orient":"bottom","tickCount":8,"tickSize":-11,"labels":false,"title":null}},"y":{"field":"f","type":"quantitative","scale":{"domain":[-0.026,0.575],"nice":false},"axis":{"orient":"left","values":[0,0.3],"tickSize":-10,"labelPadding":23,"labelExpr":"datum.value?format(datum.value,'.2f'):'0'","title":null}},"y2":{"datum":0}}},
{"data":{"values":[{}]},"mark":{"type":"rule","color":"#999","strokeDash":[5,3],"strokeWidth":1},"encoding":{"y":{"datum":0,"axis":{"orient":"right","values":[0,0.075,0.15,0.225,0.3,0.375,0.45,0.525],"tickSize":-5,"labels":false,"title":null}}}},
{"mark":{"type":"line","interpolate":"monotone","color":"#f2877c","strokeWidth":1.1,"clip":true},"encoding":{"x":{"field":"w","type":"quantitative","axis":{"orient":"bottom","tickCount":38,"tickSize":-6,"labels":false,"title":null}},"y":{"field":"e","type":"quantitative","axis":{"orient":"left","values":[0,0.075,0.15,0.225,0.3,0.375,0.45,0.525],"tickSize":-5,"labels":false,"title":null}}}},
{"mark":{"type":"rule","color":"#6aaaf2","strokeWidth":2.2,"strokeDash":[10,6]},"encoding":{"x":{"field":"l","type":"quantitative","axis":{"orient":"top","tickCount":38,"tickSize":-6,"labels":false,"title":null}}}},
{"mark":{"type":"line","interpolate":"linear","color":"black","strokeWidth":1.7,"clip":true},"encoding":{"x":{"field":"w","type":"quantitative","axis":{"orient":"top","tickCount":8,"tickSize":-11,"labels":false,"title":null}},"y":{"field":"f","type":"quantitative","axis":{"orient":"right","values":[0,0.3],"tickSize":-10,"labels":false,"title":null}}}},
{"transform":[{"filter":"datum.t"}],"mark":{"type":"text","fontStyle":"italic","align":"left"},"encoding":{"x":{"datum":811.5,"axis":null},"y":{"datum":0.354,"axis":null},"text":{"value":"z"}}},
{"transform":[{"filter":"datum.t"}],"mark":{"type":"text","align":"left"},"encoding":{"x":{"datum":816.5,"axis":null},"y":{"datum":0.354,"axis":null},"text":{"field":"t"}}},
{"transform":[{"filter":"datum.t"}],"mark":{"type":"text","align":"right","fontSize":16},"encoding":{"x":{"datum":1165,"axis":null},"y":{"datum":0.354,"axis":null},"text":{"field":"i"}}}]},
{"transform":[{"filter":"datum.p==7"}],"resolve":{"axis":{"x":"independent","y":"independent"}},"layer":[
{"mark":{"type":"area","interpolate":"linear","color":"#cbcbcb","clip":true},"encoding":{"x":{"field":"w","type":"quantitative","scale":{"domain":[800,1180],"nice":false},"axis":{"orient":"bottom","tickCount":8,"tickSize":-11,"labels":false,"title":null}},"y":{"field":"f","type":"quantitative","scale":{"domain":[-0.026,0.51],"nice":false},"axis":{"orient":"left","values":[0,0.25],"tickSize":-10,"labelPadding":23,"labelExpr":"datum.value?format(datum.value,'.2f'):'0'","title":null}},"y2":{"datum":0}}},
{"data":{"values":[{}]},"mark":{"type":"rule","color":"#999","strokeDash":[5,3],"strokeWidth":1},"encoding":{"y":{"datum":0,"axis":{"orient":"right","values":[0,0.0625,0.125,0.1875,0.25,0.3125,0.375,0.4375,0.5],"tickSize":-5,"labels":false,"title":null}}}},
{"mark":{"type":"line","interpolate":"monotone","color":"#f2877c","strokeWidth":1.1,"clip":true},"encoding":{"x":{"field":"w","type":"quantitative","axis":{"orient":"bottom","tickCount":38,"tickSize":-6,"labels":false,"title":null}},"y":{"field":"e","type":"quantitative","axis":{"orient":"left","values":[0,0.0625,0.125,0.1875,0.25,0.3125,0.375,0.4375,0.5],"tickSize":-5,"labels":false,"title":null}}}},
{"mark":{"type":"rule","color":"#6aaaf2","strokeWidth":2.2,"strokeDash":[10,6]},"encoding":{"x":{"field":"l","type":"quantitative","axis":{"orient":"top","tickCount":38,"tickSize":-6,"labels":false,"title":null}}}},
{"mark":{"type":"line","interpolate":"linear","color":"black","strokeWidth":1.7,"clip":true},"encoding":{"x":{"field":"w","type":"quantitative","axis":{"orient":"top","tickCount":8,"tickSize":-11,"labels":false,"title":null}},"y":{"field":"f","type":"quantitative","axis":{"orient":"right","values":[0,0.25],"tickSize":-10,"labels":false,"title":null}}}},
{"transform":[{"filter":"datum.t"}],"mark":{"type":"text","fontStyle":"italic","align":"left"},"encoding":{"x":{"datum":811.5,"axis":null},"y":{"datum":0.313,"axis":null},"text":{"value":"z"}}},
{"transform":[{"filter":"datum.t"}],"mark":{"type":"text","align":"left"},"encoding":{"x":{"datum":816.5,"axis":null},"y":{"datum":0.313,"axis":null},"text":{"field":"t"}}},
{"transform":[{"filter":"datum.t"}],"mark":{"type":"text","align":"right","fontSize":16},"encoding":{"x":{"datum":1165,"axis":null},"y":{"datum":0.313,"axis":null},"text":{"field":"i"}}}]},
{"transform":[{"filter":"datum.p==8"}],"resolve":{"axis":{"x":"independent","y":"independent"}},"layer":[
{"mark":{"type":"area","interpolate":"linear","color":"#cbcbcb","clip":true},"encoding":{"x":{"field":"w","type":"quantitative","scale":{"domain":[800,1180],"nice":false},"axis":{"orient":"bottom","tickCount":8,"tickSize":-11,"labels":false,"title":null}},"y":{"field":"f","type":"quantitative","scale":{"domain":[-0.024,0.276],"nice":false},"axis":{"orient":"left","values":[0,0.15],"tickSize":-10,"labelPadding":23,"labelExpr":"datum.value?format(datum.value,'.2f'):'0'","title":"Flux [10⁻¹⁷ erg s⁻¹ cm⁻² Å⁻¹]","titleX":-84,"titleY":68,"titleAngle":-90,"titleAlign":"center","titleBaseline":"middle","titleFontSize":25}},"y2":{"datum":0}}},
{"data":{"values":[{}]},"mark":{"type":"rule","color":"#999","strokeDash":[5,3],"strokeWidth":1},"encoding":{"y":{"datum":0,"axis":{"orient":"right","values":[0,0.0375,0.075,0.1125,0.15,0.1875,0.225,0.2625],"tickSize":-5,"labels":false,"title":null}}}},
{"mark":{"type":"line","interpolate":"monotone","color":"#f2877c","strokeWidth":1.1,"clip":true},"encoding":{"x":{"field":"w","type":"quantitative","axis":{"orient":"bottom","tickCount":38,"tickSize":-6,"labels":false,"title":null}},"y":{"field":"e","type":"quantitative","axis":{"orient":"left","values":[0,0.0375,0.075,0.1125,0.15,0.1875,0.225,0.2625],"tickSize":-5,"labels":false,"title":null}}}},
{"mark":{"type":"rule","color":"#6aaaf2","strokeWidth":2.2,"strokeDash":[10,6]},"encoding":{"x":{"field":"l","type":"quantitative","axis":{"orient":"top","tickCount":38,"tickSize":-6,"labels":false,"title":null}}}},
{"mark":{"type":"line","interpolate":"linear","color":"black","strokeWidth":1.7,"clip":true},"encoding":{"x":{"field":"w","type":"quantitative","axis":{"orient":"top","tickCount":8,"tickSize":-11,"labels":false,"title":null}},"y":{"field":"f","type":"quantitative","axis":{"orient":"right","values":[0,0.15],"tickSize":-10,"labels":false,"title":null}}}},
{"transform":[{"filter":"datum.t"}],"mark":{"type":"text","fontStyle":"italic","align":"left"},"encoding":{"x":{"datum":811.5,"axis":null},"y":{"datum":0.166,"axis":null},"text":{"value":"z"}}},
{"transform":[{"filter":"datum.t"}],"mark":{"type":"text","align":"left"},"encoding":{"x":{"datum":816.5,"axis":null},"y":{"datum":0.166,"axis":null},"text":{"field":"t"}}},
{"transform":[{"filter":"datum.t"}],"mark":{"type":"text","align":"right","fontSize":16},"encoding":{"x":{"datum":1165,"axis":null},"y":{"datum":0.166,"axis":null},"text":{"field":"i"}}}]},
{"transform":[{"filter":"datum.p==9"}],"resolve":{"axis":{"x":"independent","y":"independent"}},"layer":[
{"mark":{"type":"area","interpolate":"step","color":"#cbcbcb","clip":true},"encoding":{"x":{"field":"w","type":"quantitative","scale":{"domain":[800,1180],"nice":false},"axis":{"orient":"bottom","tickCount":8,"tickSize":-11,"labels":false,"title":null}},"y":{"field":"f","type":"quantitative","scale":{"domain":[-0.023,0.174],"nice":false},"axis":{"orient":"left","values":[0,0.1],"tickSize":-10,"labelPadding":23,"labelExpr":"datum.value?format(datum.value,'.2f'):'0'","title":null}},"y2":{"datum":0}}},
{"data":{"values":[{}]},"mark":{"type":"rule","color":"#999","strokeDash":[5,3],"strokeWidth":1},"encoding":{"y":{"datum":0,"axis":{"orient":"right","values":[-0.02,0,0.02,0.04,0.06,0.08,0.1,0.12,0.14,0.16],"tickSize":-5,"labels":false,"title":null}}}},
{"mark":{"type":"line","interpolate":"monotone","color":"#f2877c","strokeWidth":1.1,"clip":true},"encoding":{"x":{"field":"w","type":"quantitative","axis":{"orient":"bottom","tickCount":38,"tickSize":-6,"labels":false,"title":null}},"y":{"field":"e","type":"quantitative","axis":{"orient":"left","values":[-0.02,0,0.02,0.04,0.06,0.08,0.1,0.12,0.14,0.16],"tickSize":-5,"labels":false,"title":null}}}},
{"mark":{"type":"rule","color":"#6aaaf2","strokeWidth":2.2,"strokeDash":[10,6]},"encoding":{"x":{"field":"l","type":"quantitative","axis":{"orient":"top","tickCount":38,"tickSize":-6,"labels":false,"title":null}}}},
{"mark":{"type":"line","interpolate":"step","color":"black","strokeWidth":1.7,"clip":true},"encoding":{"x":{"field":"w","type":"quantitative","axis":{"orient":"top","tickCount":8,"tickSize":-11,"labels":false,"title":null}},"y":{"field":"f","type":"quantitative","axis":{"orient":"right","values":[0,0.1],"tickSize":-10,"labels":false,"title":null}}}},
{"transform":[{"filter":"datum.t"}],"mark":{"type":"text","fontStyle":"italic","align":"left"},"encoding":{"x":{"datum":811.5,"axis":null},"y":{"datum":0.1016,"axis":null},"text":{"value":"z"}}},
{"transform":[{"filter":"datum.t"}],"mark":{"type":"text","align":"left"},"encoding":{"x":{"datum":816.5,"axis":null},"y":{"datum":0.1016,"axis":null},"text":{"field":"t"}}},
{"transform":[{"filter":"datum.t"}],"mark":{"type":"text","align":"right","fontSize":16},"encoding":{"x":{"datum":1165,"axis":null},"y":{"datum":0.1016,"axis":null},"text":{"field":"i"}}}]},
{"transform":[{"filter":"datum.p==10"}],"resolve":{"axis":{"x":"independent","y":"independent"}},"layer":[
{"mark":{"type":"area","interpolate":"step","color":"#cbcbcb","clip":true},"encoding":{"x":{"field":"w","type":"quantitative","scale":{"domain":[800,1180],"nice":false},"axis":{"orient":"bottom","tickCount":8,"tickSize":-11,"labels":false,"title":null}},"y":{"field":"f","type":"quantitative","scale":{"domain":[-0.032,0.488],"nice":false},"axis":{"orient":"left","values":[0,0.25],"tickSize":-10,"labelPadding":23,"labelExpr":"datum.value?format(datum.value,'.2f'):'0'","title":null}},"y2":{"datum":0}}},
{"data":{"values":[{}]},"mark":{"type":"rule","color":"#999","strokeDash":[5,3],"strokeWidth":1},"encoding":{"y":{"datum":0,"axis":{"orient":"right","values":[0,0.0625,0.125,0.1875,0.25,0.3125,0.375,0.4375],"tickSize":-5,"labels":false,"title":null}}}},
{"mark":{"type":"line","interpolate":"monotone","color":"#f2877c","strokeWidth":1.1,"clip":true},"encoding":{"x":{"field":"w","type":"quantitative","axis":{"orient":"bottom","tickCount":38,"tickSize":-6,"labels":false,"title":null}},"y":{"field":"e","type":"quantitative","axis":{"orient":"left","values":[0,0.0625,0.125,0.1875,0.25,0.3125,0.375,0.4375],"tickSize":-5,"labels":false,"title":null}}}},
{"mark":{"type":"rule","color":"#6aaaf2","strokeWidth":2.2,"strokeDash":[10,6]},"encoding":{"x":{"field":"l","type":"quantitative","axis":{"orient":"top","tickCount":38,"tickSize":-6,"labels":false,"title":null}}}},
{"mark":{"type":"line","interpolate":"step","color":"black","strokeWidth":1.7,"clip":true},"encoding":{"x":{"field":"w","type":"quantitative","axis":{"orient":"top","tickCount":8,"tickSize":-11,"labels":false,"title":null}},"y":{"field":"f","type":"quantitative","axis":{"orient":"right","values":[0,0.25],"tickSize":-10,"labels":false,"title":null}}}},
{"transform":[{"filter":"datum.t"}],"mark":{"type":"text","fontStyle":"italic","align":"left"},"encoding":{"x":{"datum":811.5,"axis":null},"y":{"datum":0.297,"axis":null},"text":{"value":"z"}}},
{"transform":[{"filter":"datum.t"}],"mark":{"type":"text","align":"left"},"encoding":{"x":{"datum":816.5,"axis":null},"y":{"datum":0.297,"axis":null},"text":{"field":"t"}}},
{"transform":[{"filter":"datum.t"}],"mark":{"type":"text","align":"right","fontSize":16},"encoding":{"x":{"datum":1165,"axis":null},"y":{"datum":0.297,"axis":null},"text":{"field":"i"}}}]},
{"transform":[{"filter":"datum.p==11"}],"resolve":{"axis":{"x":"independent","y":"independent"}},"layer":[
{"mark":{"type":"area","interpolate":"linear","color":"#cbcbcb","clip":true},"encoding":{"x":{"field":"w","type":"quantitative","scale":{"domain":[800,1180],"nice":false},"axis":{"orient":"bottom","tickCount":8,"tickSize":-11,"labels":false,"title":null}},"y":{"field":"f","type":"quantitative","scale":{"domain":[-0.0097,0.095],"nice":false},"axis":{"orient":"left","values":[0,0.05],"tickSize":-10,"labelPadding":23,"labelExpr":"datum.value?format(datum.value,'.2f'):'0'","title":null}},"y2":{"datum":0}}},
{"data":{"values":[{}]},"mark":{"type":"rule","color":"#999","strokeDash":[5,3],"strokeWidth":1},"encoding":{"y":{"datum":0,"axis":{"orient":"right","values":[0,0.01,0.02,0.03,0.04,0.05,0.06,0.07,0.08,0.09],"tickSize":-5,"labels":false,"title":null}}}},
{"mark":{"type":"line","interpolate":"monotone","color":"#f2877c","strokeWidth":1.1,"clip":true},"encoding":{"x":{"field":"w","type":"quantitative","axis":{"orient":"bottom","tickCount":38,"tickSize":-6,"labels":false,"title":null}},"y":{"field":"e","type":"quantitative","axis":{"orient":"left","values":[0,0.01,0.02,0.03,0.04,0.05,0.06,0.07,0.08,0.09],"tickSize":-5,"labels":false,"title":null}}}},
{"mark":{"type":"rule","color":"#6aaaf2","strokeWidth":2.2,"strokeDash":[10,6]},"encoding":{"x":{"field":"l","type":"quantitative","axis":{"orient":"top","tickCount":38,"tickSize":-6,"labels":false,"title":null}}}},
{"mark":{"type":"line","interpolate":"linear","color":"black","strokeWidth":1.7,"clip":true},"encoding":{"x":{"field":"w","type":"quantitative","axis":{"orient":"top","tickCount":8,"tickSize":-11,"labels":false,"title":null}},"y":{"field":"f","type":"quantitative","axis":{"orient":"right","values":[0,0.05],"tickSize":-10,"labels":false,"title":null}}}},
{"transform":[{"filter":"datum.t"}],"mark":{"type":"text","fontStyle":"italic","align":"left"},"encoding":{"x":{"datum":811.5,"axis":null},"y":{"datum":0.0565,"axis":null},"text":{"value":"z"}}},
{"transform":[{"filter":"datum.t"}],"mark":{"type":"text","align":"left"},"encoding":{"x":{"datum":816.5,"axis":null},"y":{"datum":0.0565,"axis":null},"text":{"field":"t"}}},
{"transform":[{"filter":"datum.t"}],"mark":{"type":"text","align":"right","fontSize":16},"encoding":{"x":{"datum":1165,"axis":null},"y":{"datum":0.0565,"axis":null},"text":{"field":"i"}}}]},
{"transform":[{"filter":"datum.p==12"}],"resolve":{"axis":{"x":"independent","y":"independent"}},"layer":[
{"mark":{"type":"area","interpolate":"step","color":"#cbcbcb","clip":true},"encoding":{"x":{"field":"w","type":"quantitative","scale":{"domain":[800,1180],"nice":false},"axis":{"orient":"bottom","tickCount":8,"tickSize":-11,"labels":false,"title":null}},"y":{"field":"f","type":"quantitative","scale":{"domain":[-0.026,0.184],"nice":false},"axis":{"orient":"left","values":[0,0.1],"tickSize":-10,"labelPadding":23,"labelExpr":"datum.value?format(datum.value,'.2f'):'0'","title":null}},"y2":{"datum":0}}},
{"data":{"values":[{}]},"mark":{"type":"rule","color":"#999","strokeDash":[5,3],"strokeWidth":1},"encoding":{"y":{"datum":0,"axis":{"orient":"right","values":[-0.02,0,0.02,0.04,0.06,0.08,0.1,0.12,0.14,0.16,0.18],"tickSize":-5,"labels":false,"title":null}}}},
{"mark":{"type":"line","interpolate":"monotone","color":"#f2877c","strokeWidth":1.1,"clip":true},"encoding":{"x":{"field":"w","type":"quantitative","axis":{"orient":"bottom","tickCount":38,"tickSize":-6,"labels":false,"title":null}},"y":{"field":"e","type":"quantitative","axis":{"orient":"left","values":[-0.02,0,0.02,0.04,0.06,0.08,0.1,0.12,0.14,0.16,0.18],"tickSize":-5,"labels":false,"title":null}}}},
{"mark":{"type":"rule","color":"#6aaaf2","strokeWidth":2.2,"strokeDash":[10,6]},"encoding":{"x":{"field":"l","type":"quantitative","axis":{"orient":"top","tickCount":38,"tickSize":-6,"labels":false,"title":null}}}},
{"mark":{"type":"line","interpolate":"step","color":"black","strokeWidth":1.7,"clip":true},"encoding":{"x":{"field":"w","type":"quantitative","axis":{"orient":"top","tickCount":8,"tickSize":-11,"labels":false,"title":null}},"y":{"field":"f","type":"quantitative","axis":{"orient":"right","values":[0,0.1],"tickSize":-10,"labels":false,"title":null}}}},
{"transform":[{"filter":"datum.t"}],"mark":{"type":"text","fontStyle":"italic","align":"left"},"encoding":{"x":{"datum":811.5,"axis":null},"y":{"datum":0.1068,"axis":null},"text":{"value":"z"}}},
{"transform":[{"filter":"datum.t"}],"mark":{"type":"text","align":"left"},"encoding":{"x":{"datum":816.5,"axis":null},"y":{"datum":0.1068,"axis":null},"text":{"field":"t"}}},
{"transform":[{"filter":"datum.t"}],"mark":{"type":"text","align":"right","fontSize":16},"encoding":{"x":{"datum":1165,"axis":null},"y":{"datum":0.1068,"axis":null},"text":{"field":"i"}}}]},
{"transform":[{"filter":"datum.p==13"}],"resolve":{"axis":{"x":"independent","y":"independent"}},"layer":[
{"mark":{"type":"area","interpolate":"linear","color":"#cbcbcb","clip":true},"encoding":{"x":{"field":"w","type":"quantitative","scale":{"domain":[800,1180],"nice":false},"axis":{"orient":"bottom","tickCount":8,"tickSize":-11,"labels":false,"title":null}},"y":{"field":"f","type":"quantitative","scale":{"domain":[-0.056,0.795],"nice":false},"axis":{"orient":"left","values":[0,0.5],"tickSize":-10,"labelPadding":23,"labelExpr":"datum.value?format(datum.value,'.2f'):'0'","title":null}},"y2":{"datum":0}}},
{"data":{"values":[{}]},"mark":{"type":"rule","color":"#999","strokeDash":[5,3],"strokeWidth":1},"encoding":{"y":{"datum":0,"axis":{"orient":"right","values":[0,0.1,0.2,0.3,0.4,0.5,0.6,0.7],"tickSize":-5,"labels":false,"title":null}}}},
{"mark":{"type":"line","interpolate":"monotone","color":"#f2877c","strokeWidth":1.1,"clip":true},"encoding":{"x":{"field":"w","type":"quantitative","axis":{"orient":"bottom","tickCount":38,"tickSize":-6,"labels":false,"title":null}},"y":{"field":"e","type":"quantitative","axis":{"orient":"left","values":[0,0.1,0.2,0.3,0.4,0.5,0.6,0.7],"tickSize":-5,"labels":false,"title":null}}}},
{"mark":{"type":"rule","color":"#6aaaf2","strokeWidth":2.2,"strokeDash":[10,6]},"encoding":{"x":{"field":"l","type":"quantitative","axis":{"orient":"top","tickCount":38,"tickSize":-6,"labels":false,"title":null}}}},
{"mark":{"type":"line","interpolate":"linear","color":"black","strokeWidth":1.7,"clip":true},"encoding":{"x":{"field":"w","type":"quantitative","axis":{"orient":"top","tickCount":8,"tickSize":-11,"labels":false,"title":null}},"y":{"field":"f","type":"quantitative","axis":{"orient":"right","values":[0,0.5],"tickSize":-10,"labels":false,"title":null}}}},
{"transform":[{"filter":"datum.t"}],"mark":{"type":"text","fontStyle":"italic","align":"left"},"encoding":{"x":{"datum":811.5,"axis":null},"y":{"datum":0.482,"axis":null},"text":{"value":"z"}}},
{"transform":[{"filter":"datum.t"}],"mark":{"type":"text","align":"left"},"encoding":{"x":{"datum":816.5,"axis":null},"y":{"datum":0.482,"axis":null},"text":{"field":"t"}}},
{"transform":[{"filter":"datum.t"}],"mark":{"type":"text","align":"right","fontSize":16},"encoding":{"x":{"datum":1165,"axis":null},"y":{"datum":0.482,"axis":null},"text":{"field":"i"}}}]},
{"transform":[{"filter":"datum.p==14"}],"resolve":{"axis":{"x":"independent","y":"independent"}},"layer":[
{"mark":{"type":"area","interpolate":"linear","color":"#cbcbcb","clip":true},"encoding":{"x":{"field":"w","type":"quantitative","scale":{"domain":[800,1180],"nice":false},"axis":{"orient":"bottom","tickCount":8,"tickSize":-11,"labels":false,"title":null}},"y":{"field":"f","type":"quantitative","scale":{"domain":[-0.083,0.788],"nice":false},"axis":{"orient":"left","values":[0,0.5],"tickSize":-10,"labelPadding":23,"labelExpr":"datum.value?format(datum.value,'.2f'):'0'","title":null}},"y2":{"datum":0}}},
{"data":{"values":[{}]},"mark":{"type":"rule","color":"#999","strokeDash":[5,3],"strokeWidth":1},"encoding":{"y":{"datum":0,"axis":{"orient":"right","values":[0,0.1,0.2,0.3,0.4,0.5,0.6,0.7],"tickSize":-5,"labels":false,"title":null}}}},
{"mark":{"type":"line","interpolate":"monotone","color":"#f2877c","strokeWidth":1.1,"clip":true},"encoding":{"x":{"field":"w","type":"quantitative","axis":{"orient":"bottom","tickCount":38,"tickSize":-6,"labels":false,"title":null}},"y":{"field":"e","type":"quantitative","axis":{"orient":"left","values":[0,0.1,0.2,0.3,0.4,0.5,0.6,0.7],"tickSize":-5,"labels":false,"title":null}}}},
{"mark":{"type":"rule","color":"#6aaaf2","strokeWidth":2.2,"strokeDash":[10,6]},"encoding":{"x":{"field":"l","type":"quantitative","axis":{"orient":"top","tickCount":38,"tickSize":-6,"labels":false,"title":null}}}},
{"mark":{"type":"line","interpolate":"linear","color":"black","strokeWidth":1.7,"clip":true},"encoding":{"x":{"field":"w","type":"quantitative","axis":{"orient":"top","tickCount":8,"tickSize":-11,"labels":false,"title":null}},"y":{"field":"f","type":"quantitative","axis":{"orient":"right","values":[0,0.5],"tickSize":-10,"labels":false,"title":null}}}},
{"transform":[{"filter":"datum.t"}],"mark":{"type":"text","fontStyle":"italic","align":"left"},"encoding":{"x":{"datum":811.5,"axis":null},"y":{"datum":0.468,"axis":null},"text":{"value":"z"}}},
{"transform":[{"filter":"datum.t"}],"mark":{"type":"text","align":"left"},"encoding":{"x":{"datum":816.5,"axis":null},"y":{"datum":0.468,"axis":null},"text":{"field":"t"}}},
{"transform":[{"filter":"datum.t"}],"mark":{"type":"text","align":"right","fontSize":16},"encoding":{"x":{"datum":1165,"axis":null},"y":{"datum":0.468,"axis":null},"text":{"field":"i"}}}]},
{"transform":[{"filter":"datum.p==15"}],"resolve":{"axis":{"x":"independent","y":"independent"}},"layer":[
{"mark":{"type":"area","interpolate":"linear","color":"#cbcbcb","clip":true},"encoding":{"x":{"field":"w","type":"quantitative","scale":{"domain":[800,1180],"nice":false},"axis":{"orient":"bottom","tickCount":8,"tickSize":-11,"labels":false,"title":null}},"y":{"field":"f","type":"quantitative","scale":{"domain":[-0.09,0.917],"nice":false},"axis":{"orient":"left","values":[0,0.6],"tickSize":-10,"labelPadding":23,"labelExpr":"datum.value?format(datum.value,'.2f'):'0'","title":null}},"y2":{"datum":0}}},
{"data":{"values":[{}]},"mark":{"type":"rule","color":"#999","strokeDash":[5,3],"strokeWidth":1},"encoding":{"y":{"datum":0,"axis":{"orient":"right","values":[0,0.15,0.3,0.45,0.6,0.75,0.9],"tickSize":-5,"labels":false,"title":null}}}},
{"mark":{"type":"line","interpolate":"monotone","color":"#f2877c","strokeWidth":1.1,"clip":true},"encoding":{"x":{"field":"w","type":"quantitative","axis":{"orient":"bottom","tickCount":38,"tickSize":-6,"labels":false,"title":null}},"y":{"field":"e","type":"quantitative","axis":{"orient":"left","values":[0,0.15,0.3,0.45,0.6,0.75,0.9],"tickSize":-5,"labels":false,"title":null}}}},
{"mark":{"type":"rule","color":"#6aaaf2","strokeWidth":2.2,"strokeDash":[10,6]},"encoding":{"x":{"field":"l","type":"quantitative","axis":{"orient":"top","tickCount":38,"tickSize":-6,"labels":false,"title":null}}}},
{"mark":{"type":"line","interpolate":"linear","color":"black","strokeWidth":1.7,"clip":true},"encoding":{"x":{"field":"w","type":"quantitative","axis":{"orient":"top","tickCount":8,"tickSize":-11,"labels":false,"title":null}},"y":{"field":"f","type":"quantitative","axis":{"orient":"right","values":[0,0.6],"tickSize":-10,"labels":false,"title":null}}}},
{"transform":[{"filter":"datum.t"}],"mark":{"type":"text","fontStyle":"italic","align":"left"},"encoding":{"x":{"datum":811.5,"axis":null},"y":{"datum":0.547,"axis":null},"text":{"value":"z"}}},
{"transform":[{"filter":"datum.t"}],"mark":{"type":"text","align":"left"},"encoding":{"x":{"datum":816.5,"axis":null},"y":{"datum":0.547,"axis":null},"text":{"field":"t"}}},
{"transform":[{"filter":"datum.t"}],"mark":{"type":"text","align":"right","fontSize":16},"encoding":{"x":{"datum":1165,"axis":null},"y":{"datum":0.547,"axis":null},"text":{"field":"i"}}}]},
{"transform":[{"filter":"datum.p==16"}],"resolve":{"axis":{"x":"independent","y":"independent"}},"layer":[
{"mark":{"type":"area","interpolate":"step","color":"#cbcbcb","clip":true},"encoding":{"x":{"field":"w","type":"quantitative","scale":{"domain":[800,1180],"nice":false},"axis":{"orient":"bottom","tickCount":8,"tickSize":-11,"format":"d","labelFontSize":23,"labelPadding":22,"title":"Wavelength [nm]","titleFontSize":23,"titlePadding":4}},"y":{"field":"f","type":"quantitative","scale":{"domain":[-0.036,0.488],"nice":false},"axis":{"orient":"left","values":[0,0.25],"tickSize":-10,"labelPadding":23,"labelExpr":"datum.value?format(datum.value,'.2f'):'0'","title":null}},"y2":{"datum":0}}},
{"data":{"values":[{}]},"mark":{"type":"rule","color":"#999","strokeDash":[5,3],"strokeWidth":1},"encoding":{"y":{"datum":0,"axis":{"orient":"right","values":[0,0.0625,0.125,0.1875,0.25,0.3125,0.375,0.4375],"tickSize":-5,"labels":false,"title":null}}}},
{"mark":{"type":"line","interpolate":"monotone","color":"#f2877c","strokeWidth":1.1,"clip":true},"encoding":{"x":{"field":"w","type":"quantitative","axis":{"orient":"bottom","tickCount":38,"tickSize":-6,"labels":false,"title":null}},"y":{"field":"e","type":"quantitative","axis":{"orient":"left","values":[0,0.0625,0.125,0.1875,0.25,0.3125,0.375,0.4375],"tickSize":-5,"labels":false,"title":null}}}},
{"mark":{"type":"rule","color":"#6aaaf2","strokeWidth":2.2,"strokeDash":[10,6]},"encoding":{"x":{"field":"l","type":"quantitative","axis":{"orient":"top","tickCount":38,"tickSize":-6,"labels":false,"title":null}}}},
{"mark":{"type":"line","interpolate":"step","color":"black","strokeWidth":1.7,"clip":true},"encoding":{"x":{"field":"w","type":"quantitative","axis":{"orient":"top","tickCount":8,"tickSize":-11,"labels":false,"title":null}},"y":{"field":"f","type":"quantitative","axis":{"orient":"right","values":[0,0.25],"tickSize":-10,"labels":false,"title":null}}}},
{"transform":[{"filter":"datum.t"}],"mark":{"type":"text","fontStyle":"italic","align":"left"},"encoding":{"x":{"datum":811.5,"axis":null},"y":{"datum":0.295,"axis":null},"text":{"value":"z"}}},
{"transform":[{"filter":"datum.t"}],"mark":{"type":"text","align":"left"},"encoding":{"x":{"datum":816.5,"axis":null},"y":{"datum":0.295,"axis":null},"text":{"field":"t"}}},
{"transform":[{"filter":"datum.t"}],"mark":{"type":"text","align":"right","fontSize":16},"encoding":{"x":{"datum":1165,"axis":null},"y":{"datum":0.295,"axis":null},"text":{"field":"i"}}}]}
]
}
